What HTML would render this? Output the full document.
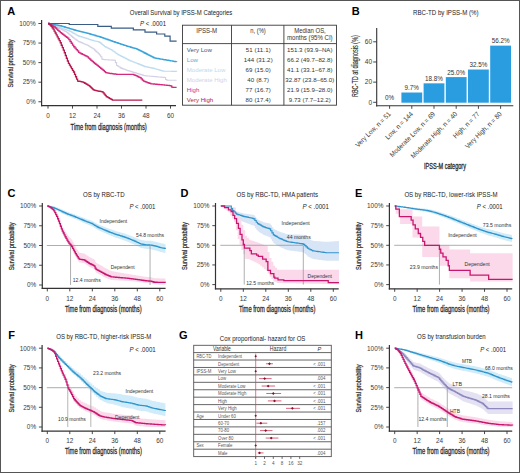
<!DOCTYPE html><html><head><meta charset="utf-8"><style>html,body{margin:0;padding:0;background:#fff;overflow:hidden;width:520px;height:473px;}svg{display:block;}text{font-family:"Liberation Sans", sans-serif;}</style></head><body>
<svg width="520" height="473" viewBox="0 0 520 473">
<rect x="0.00" y="0.00" width="520.00" height="473.00" fill="#ffffff" stroke="none" stroke-width="1.0" />
<text x="7.20" y="14.70" font-size="11" fill="#000" font-weight="bold">A</text>
<text x="129.80" y="15.10" font-size="7.0" fill="#222" textLength="102.50" lengthAdjust="spacingAndGlyphs">Overall Survival by IPSS-M Categories</text>
<text x="140.00" y="26.00" font-size="6.6" fill="#222" textLength="26.00" lengthAdjust="spacingAndGlyphs"><tspan font-style="italic">P</tspan> &lt; .0001</text>
<line x1="41.60" y1="20.00" x2="41.60" y2="106.20" stroke="#333" stroke-width="1.2" />
<line x1="41.00" y1="105.60" x2="176.00" y2="105.60" stroke="#333" stroke-width="1.2" />
<line x1="38.40" y1="101.75" x2="41.60" y2="101.75" stroke="#333" stroke-width="0.9" />
<text x="35.60" y="104.05" font-size="6.4" fill="#3a3a3a" text-anchor="end">0%</text>
<line x1="38.40" y1="82.19" x2="41.60" y2="82.19" stroke="#333" stroke-width="0.9" />
<text x="35.60" y="84.49" font-size="6.4" fill="#3a3a3a" text-anchor="end">25%</text>
<line x1="38.40" y1="62.62" x2="41.60" y2="62.62" stroke="#333" stroke-width="0.9" />
<text x="35.60" y="64.92" font-size="6.4" fill="#3a3a3a" text-anchor="end">50%</text>
<line x1="38.40" y1="43.06" x2="41.60" y2="43.06" stroke="#333" stroke-width="0.9" />
<text x="35.60" y="45.36" font-size="6.4" fill="#3a3a3a" text-anchor="end">75%</text>
<line x1="38.40" y1="23.50" x2="41.60" y2="23.50" stroke="#333" stroke-width="0.9" />
<text x="35.60" y="25.80" font-size="6.4" fill="#3a3a3a" text-anchor="end">100%</text>
<line x1="48.00" y1="105.60" x2="48.00" y2="108.60" stroke="#333" stroke-width="0.9" />
<text x="48.00" y="117.60" font-size="6.4" fill="#3a3a3a" text-anchor="middle">0</text>
<line x1="72.50" y1="105.60" x2="72.50" y2="108.60" stroke="#333" stroke-width="0.9" />
<text x="72.50" y="117.60" font-size="6.4" fill="#3a3a3a" text-anchor="middle">12</text>
<line x1="97.00" y1="105.60" x2="97.00" y2="108.60" stroke="#333" stroke-width="0.9" />
<text x="97.00" y="117.60" font-size="6.4" fill="#3a3a3a" text-anchor="middle">24</text>
<line x1="121.50" y1="105.60" x2="121.50" y2="108.60" stroke="#333" stroke-width="0.9" />
<text x="121.50" y="117.60" font-size="6.4" fill="#3a3a3a" text-anchor="middle">36</text>
<line x1="146.00" y1="105.60" x2="146.00" y2="108.60" stroke="#333" stroke-width="0.9" />
<text x="146.00" y="117.60" font-size="6.4" fill="#3a3a3a" text-anchor="middle">48</text>
<line x1="170.50" y1="105.60" x2="170.50" y2="108.60" stroke="#333" stroke-width="0.9" />
<text x="170.50" y="117.60" font-size="6.4" fill="#3a3a3a" text-anchor="middle">60</text>
<text x="70.60" y="129.50" font-size="8.8" fill="#2a2a2a" textLength="76.20" lengthAdjust="spacingAndGlyphs" stroke="#2a2a2a" stroke-width="0.28">Time from diagnosis (months)</text>
<text x="13.30" y="63.42" font-size="8.0" fill="#2a2a2a" text-anchor="middle" textLength="48.00" lengthAdjust="spacingAndGlyphs" transform="rotate(-90 13.30 63.42)" stroke="#2a2a2a" stroke-width="0.22">Survival probability</text>
<path d="M48.00,23.50H49.23V23.97H50.45V24.44H51.67V24.91H52.90V25.38H54.12V25.85H55.35V26.47H56.58V27.10H57.80V27.73H59.02V28.35H60.25V28.98H61.47V29.62H62.70V30.27H63.92V30.91H65.15V31.56H66.38V32.21H67.60V33.14H68.82V34.23H70.05V35.31H71.27V36.39H72.50V37.42H73.72V38.32H74.95V39.23H76.17V40.13H77.40V41.03H78.62V41.62H79.85V42.14H81.07V42.66H82.30V43.18H83.52V43.70H84.75V44.22H85.97V44.74H87.20V45.30H88.43V46.05H89.65V46.80H90.88V47.54H92.10V48.29H93.33V49.04H94.55V50.17H95.78V51.37H97.00V52.57H98.23V53.78H99.45V54.98H100.68V56.76H101.90V59.10H103.13V59.56H104.35V59.63H105.58V59.71H106.80V59.78H108.03V59.86H109.25V59.93H110.48V60.00H111.70V60.08H112.93V60.15H114.15V60.23H115.38V62.63H116.60V65.49H117.83V66.28H119.05V67.06H120.28V67.84H121.50V68.41H122.73V68.86H123.95V69.31H125.18V69.77H126.40V70.22H127.63V70.64H128.85V71.01H130.08V71.39H131.30V71.76H132.53V72.14H133.75V72.51H134.98V72.88H136.20V73.26H137.43V73.63H138.65V74.01H139.88V74.38H141.10V74.76H142.33V75.13H143.55V75.51H144.78V75.75H146.00V75.85H147.23V75.96H148.45V76.07H149.68V76.18H150.90V76.29H152.13V76.39H153.35V76.50H154.58V76.61H155.80V76.72H157.03V76.83H158.25V76.93H159.48V77.04H160.70V77.15H161.93V77.26H163.15V77.37H164.38V77.47H165.60V79.45H166.83V80.23H168.05V80.23H169.28V80.23H170.50V80.23H171.73V80.23H172.95V80.23H174.18V80.23H175.40V80.23H176.62V80.23" fill="none" stroke="#d4d0e6" stroke-width="1.1" stroke-linejoin="miter"/>
<path d="M48.00,23.50H49.23V23.89H50.45V24.28H51.67V24.67H52.90V25.06H54.12V25.46H55.35V25.93H56.58V26.40H57.80V26.86H59.02V27.33H60.25V27.80H61.47V28.24H62.70V28.68H63.92V29.12H65.15V29.55H66.38V29.99H67.60V30.43H68.82V30.87H70.05V31.44H71.27V32.15H72.50V32.85H73.72V33.56H74.95V34.26H76.17V34.96H77.40V35.67H78.62V36.10H79.85V36.48H81.07V36.87H82.30V37.25H83.52V37.63H84.75V38.02H85.97V38.42H87.20V38.82H88.43V39.22H89.65V39.62H90.88V40.01H92.10V40.41H93.33V40.72H94.55V41.00H95.78V41.29H97.00V41.57H98.23V41.86H99.45V42.39H100.68V43.42H101.90V44.45H103.13V45.48H104.35V46.51H105.58V47.12H106.80V47.73H108.03V48.34H109.25V48.95H110.48V49.56H111.70V50.31H112.93V51.19H114.15V52.07H115.38V52.94H116.60V53.82H117.83V54.62H119.05V55.24H120.28V55.87H121.50V56.50H122.73V57.12H123.95V57.75H125.18V58.37H126.40V59.00H127.63V59.63H128.85V60.25H130.08V60.83H131.30V61.29H132.53V61.76H133.75V62.23H134.98V62.70H136.20V63.18H137.43V63.67H138.65V64.16H139.88V64.65H141.10V65.14H142.33V65.63H143.55V66.12H144.78V66.61H146.00V66.90H147.23V67.14H148.45V67.39H149.68V67.63H150.90V67.88H152.13V68.13H153.35V68.37H154.58V68.68H155.80V69.05H157.03V69.43H158.25V69.80H159.48V70.17H160.70V70.55H161.93V70.92H163.15V71.23H164.38V71.25H165.60V71.26H166.83V71.28H168.05V71.29H169.28V71.30H170.50V71.32H171.73V71.33H172.95V71.35H174.18V71.36H175.40V71.37H176.62V71.39" fill="none" stroke="#bcdcf0" stroke-width="1.1" stroke-linejoin="miter"/>
<path d="M48.00,23.50H49.02V23.69H50.04V23.87H51.06V24.06H52.08V24.24H53.10V24.43H54.12V24.61H55.15V24.80H56.17V24.99H57.19V25.17H58.21V25.36H59.23V25.54H60.25V25.75H61.27V26.06H62.29V26.37H63.31V26.68H64.33V26.99H65.35V27.29H66.38V27.60H67.40V27.91H68.42V28.22H69.44V28.53H70.46V28.84H71.48V29.14H72.50V29.45H73.52V29.76H74.54V30.02H75.56V30.28H76.58V30.54H77.60V30.80H78.62V31.05H79.65V31.31H80.67V31.57H81.69V31.83H82.71V32.09H83.73V32.35H84.75V32.61H85.77V32.87H86.79V33.12H87.81V33.42H88.83V33.72H89.85V34.02H90.88V34.32H91.90V34.61H92.92V34.91H93.94V35.21H94.96V35.51H95.98V35.81H97.00V36.10H98.02V36.40H99.04V36.70H100.06V37.00H101.08V37.33H102.10V37.69H103.12V38.05H104.15V38.42H105.17V38.78H106.19V39.14H107.21V39.50H108.23V39.86H109.25V40.22H110.27V40.58H111.29V40.94H112.31V41.30H113.33V41.67H114.35V42.01H115.38V42.35H116.40V42.69H117.42V43.02H118.44V43.36H119.46V43.70H120.48V44.04H121.50V44.37H122.52V44.71H123.54V45.05H124.56V45.38H125.58V45.72H126.60V46.06H127.62V46.37H128.65V46.66H129.67V46.96H130.69V47.25H131.71V47.54H132.73V47.84H133.75V48.13H134.77V48.42H135.79V48.72H136.81V49.18H137.83V49.69H138.85V50.19H139.88V50.70H140.90V51.21H141.92V51.71H142.94V52.22H143.96V52.73H144.98V53.23H146.00V53.77H147.02V54.30H148.04V54.84H149.06V55.37H150.08V55.90H151.10V56.44H152.12V56.97H153.15V57.50H154.17V57.97H155.19V58.14H156.21V58.32H157.23V58.50H158.25V58.68H159.27V58.85H160.29V59.03H161.31V59.21H162.33V59.39H163.35V59.57H164.38V59.74H165.40V59.92H166.42V60.09H167.44V60.27H168.46V60.44H169.48V60.62H170.50V60.79H171.52V60.97H172.54V61.14H173.56V61.32H174.58V61.49H175.60V61.67H176.62V61.84" fill="none" stroke="#3aa3d9" stroke-width="1.3" stroke-linejoin="miter"/>
<path d="M48.00,23.50H69.23V24.52H97.82V26.32H111.29V28.19H133.34V29.92H144.98V32.19H156.62V33.99H164.78V36.18H170.09V41.18H176.62V41.18" fill="none" stroke="#3a5d85" stroke-width="1.2" stroke-linejoin="miter"/>
<path d="M48.00,23.50H49.23V24.13H50.45V24.75H51.67V25.46H52.90V26.24H54.12V27.02H55.35V27.99H56.58V29.15H57.80V30.30H59.02V31.46H60.25V32.58H61.47V33.52H62.70V34.45H63.92V35.39H65.15V36.33H66.38V37.27H67.60V38.21H68.82V39.71H70.05V41.48H71.27V43.25H72.50V45.03H73.72V46.74H74.95V48.15H76.17V49.56H77.40V50.97H78.62V52.37H79.85V53.12H81.07V53.73H82.30V54.35H83.52V54.96H84.75V55.58H85.97V56.19H87.20V56.97H88.43V58.08H89.65V59.19H90.88V60.30H92.10V61.41H93.33V62.52H94.55V63.50H95.78V64.45H97.00V65.40H98.23V66.36H99.45V67.31H100.68V68.28H101.90V69.37H103.13V70.45H104.35V71.53H105.58V72.62H106.80V72.95H108.03V73.12H109.25V73.30H110.48V73.48H111.70V73.65H112.93V73.83H114.15V74.01H115.38V74.19H116.60V74.36H117.83V74.36H119.05V74.36H120.28V74.36H121.50V74.36H122.73V74.36H123.95V74.36H125.18V74.36H126.40V74.36H127.63V74.36H128.85V74.36H130.08V74.36H131.30V74.36H132.53V74.36H133.75V74.90H134.98V75.44H136.20V75.97H137.43V76.51H138.65V77.05H139.88V77.69H141.10V78.89H142.33V80.09H143.55V81.17H144.78V81.62H146.00V82.08H147.23V82.54H148.45V82.99H149.68V83.45H150.90V83.79H152.13V83.91H153.35V84.02H154.58V84.14H155.80V84.26H157.03V84.37H158.25V84.49H159.48V84.60H160.70V84.72H161.93V84.84H163.15V84.95H164.38V85.07H165.60V85.19H166.83V85.30H168.05V85.42H169.28V85.53H170.50V85.83H171.73V87.03H172.95V87.43H174.18V87.43H175.40V87.43H176.62V87.43" fill="none" stroke="#d4287f" stroke-width="1.3" stroke-linejoin="miter"/>
<path d="M48.00,23.50H49.02V24.28H50.04V25.06H51.06V26.41H52.08V27.76H53.10V29.17H54.12V31.08H55.15V32.99H56.17V34.89H57.19V36.80H58.21V38.76H59.23V40.72H60.25V42.77H61.27V45.25H62.29V47.72H63.31V50.19H64.33V52.77H65.35V55.50H66.38V58.24H67.40V60.98H68.42V63.32H69.44V65.06H70.46V66.80H71.48V68.54H72.50V70.28H73.52V72.02H74.54V74.38H75.56V76.75H76.58V79.12H77.60V81.05H78.62V81.25H79.65V81.44H80.67V81.64H81.69V81.84H82.71V82.03H83.73V82.63H84.75V83.23H85.77V83.83H86.79V84.43H87.81V85.03H88.83V85.63H89.85V86.64H90.88V87.66H91.90V88.67H92.92V89.69H93.94V90.21H94.96V90.42H95.98V90.62H97.00V90.83H98.02V91.03H99.04V91.24H100.06V91.44H101.08V91.65H102.10V91.85H103.12V92.90H104.15V94.16H105.17V95.42H106.19V96.55H107.21V97.13H108.23V97.71H109.25V98.29H110.27V98.87H111.29V99.45H112.31V100.03H113.33V100.03H114.35V100.03H115.38V100.03H116.40V100.03H117.42V100.03H118.44V100.03H119.46V100.03H120.48V100.03H121.50V100.03H122.52V100.03H123.54V100.03H124.56V100.03H125.58V100.03H126.60V100.03H127.62V100.03H128.65V100.03H129.67V100.03H130.69V100.03H131.71V100.03H132.73V100.03H133.75V100.03H134.77V100.03H135.79V100.03H136.81V100.03H137.83V100.03H138.85V100.03H139.88V100.03H140.90V100.03H141.92V100.03H142.32V100.03" fill="none" stroke="#b7174f" stroke-width="1.3" stroke-linejoin="miter"/>
<rect x="182.50" y="25.20" width="154.00" height="80.00" fill="none" stroke="#3a3a3a" stroke-width="0.9" />
<line x1="182.50" y1="43.60" x2="336.50" y2="43.60" stroke="#3a3a3a" stroke-width="0.9" />
<line x1="231.50" y1="25.20" x2="231.50" y2="105.20" stroke="#3a3a3a" stroke-width="0.9" />
<line x1="283.90" y1="25.20" x2="283.90" y2="105.20" stroke="#3a3a3a" stroke-width="0.9" />
<text x="206.70" y="32.60" font-size="6.3" fill="#333" text-anchor="middle" textLength="21.00" lengthAdjust="spacingAndGlyphs">IPSS-M</text>
<text x="258.00" y="32.60" font-size="6.3" fill="#333" text-anchor="middle" textLength="15.50" lengthAdjust="spacingAndGlyphs">n, (%)</text>
<text x="310.00" y="32.80" font-size="6.3" fill="#333" text-anchor="middle" textLength="31.60" lengthAdjust="spacingAndGlyphs">Median OS,</text>
<text x="309.80" y="39.70" font-size="6.3" fill="#333" text-anchor="middle" textLength="45.70" lengthAdjust="spacingAndGlyphs">months (95% CI)</text>
<text x="186.80" y="52.00" font-size="6.1" fill="#34598a">Very Low</text>
<text x="258.30" y="52.00" font-size="6.1" fill="#333" text-anchor="middle" letter-spacing="0.12">51 (11.1)</text>
<text x="309.80" y="52.00" font-size="6.1" fill="#333" text-anchor="middle" letter-spacing="0.05">151.3 (93.9–NA)</text>
<text x="186.80" y="62.00" font-size="6.1" fill="#5aaad6">Low</text>
<text x="258.30" y="62.00" font-size="6.1" fill="#333" text-anchor="middle" letter-spacing="0.12">144 (31.2)</text>
<text x="309.80" y="62.00" font-size="6.1" fill="#333" text-anchor="middle" letter-spacing="0.05">66.2 (49.7–82.8)</text>
<text x="186.80" y="72.00" font-size="6.1" fill="#c2d9ec">Moderate Low</text>
<text x="258.30" y="72.00" font-size="6.1" fill="#333" text-anchor="middle" letter-spacing="0.12">69 (15.0)</text>
<text x="309.80" y="72.00" font-size="6.1" fill="#333" text-anchor="middle" letter-spacing="0.05">41.1 (33.1–67.8)</text>
<text x="186.80" y="82.00" font-size="6.1" fill="#d6d1e6">Moderate High</text>
<text x="258.30" y="82.00" font-size="6.1" fill="#333" text-anchor="middle" letter-spacing="0.12">40 (8.7)</text>
<text x="309.80" y="82.00" font-size="6.1" fill="#333" text-anchor="middle" letter-spacing="0.05">32.87 (23.8–65.0)</text>
<text x="186.80" y="92.00" font-size="6.1" fill="#d2307f">High</text>
<text x="258.30" y="92.00" font-size="6.1" fill="#333" text-anchor="middle" letter-spacing="0.12">77 (16.7)</text>
<text x="309.80" y="92.00" font-size="6.1" fill="#333" text-anchor="middle" letter-spacing="0.05">21.9 (15.9–28.0)</text>
<text x="186.80" y="102.00" font-size="6.1" fill="#b1214f">Very High</text>
<text x="258.30" y="102.00" font-size="6.1" fill="#333" text-anchor="middle" letter-spacing="0.12">80 (17.4)</text>
<text x="309.80" y="102.00" font-size="6.1" fill="#333" text-anchor="middle" letter-spacing="0.05">9.73 (7.7–12.2)</text>
<text x="351.80" y="15.20" font-size="11" fill="#000" font-weight="bold">B</text>
<text x="413.10" y="15.00" font-size="7.0" fill="#222" textLength="65.40" lengthAdjust="spacingAndGlyphs">RBC-TD by IPSS-M (%)</text>
<line x1="376.70" y1="28.00" x2="376.70" y2="106.40" stroke="#333" stroke-width="1.1" />
<line x1="376.10" y1="105.80" x2="513.30" y2="105.80" stroke="#333" stroke-width="1.1" />
<line x1="373.20" y1="102.30" x2="376.70" y2="102.30" stroke="#333" stroke-width="0.9" />
<text x="372.10" y="104.60" font-size="6.6" fill="#3a3a3a" text-anchor="end">0</text>
<line x1="373.20" y1="82.13" x2="376.70" y2="82.13" stroke="#333" stroke-width="0.9" />
<text x="372.10" y="84.43" font-size="6.6" fill="#3a3a3a" text-anchor="end">20</text>
<line x1="373.20" y1="61.97" x2="376.70" y2="61.97" stroke="#333" stroke-width="0.9" />
<text x="372.10" y="64.27" font-size="6.6" fill="#3a3a3a" text-anchor="end">40</text>
<line x1="373.20" y1="41.80" x2="376.70" y2="41.80" stroke="#333" stroke-width="0.9" />
<text x="372.10" y="44.10" font-size="6.6" fill="#3a3a3a" text-anchor="end">60</text>
<text x="389.60" y="99.80" font-size="6.3" fill="#333" text-anchor="middle">0%</text>
<line x1="389.60" y1="105.80" x2="389.60" y2="108.80" stroke="#333" stroke-width="0.9" />
<text x="391.20" y="114.60" font-size="6.9" fill="#3a3a3a" text-anchor="end" textLength="46.76" lengthAdjust="spacingAndGlyphs" transform="rotate(-45 391.20 114.60)">Very Low, n = 51</text>
<rect x="401.40" y="92.52" width="20.80" height="10.18" fill="#2a9de0" stroke="none" stroke-width="1.0" />
<text x="411.80" y="90.02" font-size="6.3" fill="#333" text-anchor="middle">9.7%</text>
<line x1="411.80" y1="105.80" x2="411.80" y2="108.80" stroke="#333" stroke-width="0.9" />
<text x="413.40" y="114.60" font-size="6.9" fill="#3a3a3a" text-anchor="end" textLength="35.90" lengthAdjust="spacingAndGlyphs" transform="rotate(-45 413.40 114.60)">Low, n = 144</text>
<rect x="423.60" y="83.34" width="20.80" height="19.36" fill="#2a9de0" stroke="none" stroke-width="1.0" />
<text x="434.00" y="80.84" font-size="6.3" fill="#333" text-anchor="middle">18.8%</text>
<line x1="434.00" y1="105.80" x2="434.00" y2="108.80" stroke="#333" stroke-width="0.9" />
<text x="435.60" y="114.60" font-size="6.9" fill="#3a3a3a" text-anchor="end" textLength="60.76" lengthAdjust="spacingAndGlyphs" transform="rotate(-45 435.60 114.60)">Moderate Low, n = 69</text>
<rect x="445.80" y="77.09" width="20.80" height="25.61" fill="#2a9de0" stroke="none" stroke-width="1.0" />
<text x="456.20" y="74.59" font-size="6.3" fill="#333" text-anchor="middle">25.0%</text>
<line x1="456.20" y1="105.80" x2="456.20" y2="108.80" stroke="#333" stroke-width="0.9" />
<text x="457.80" y="114.60" font-size="6.9" fill="#3a3a3a" text-anchor="end" textLength="62.51" lengthAdjust="spacingAndGlyphs" transform="rotate(-45 457.80 114.60)">Moderate High, n = 40</text>
<rect x="468.00" y="69.53" width="20.80" height="33.17" fill="#2a9de0" stroke="none" stroke-width="1.0" />
<text x="478.40" y="67.03" font-size="6.3" fill="#333" text-anchor="middle">32.5%</text>
<line x1="478.40" y1="105.80" x2="478.40" y2="108.80" stroke="#333" stroke-width="0.9" />
<text x="480.00" y="114.60" font-size="6.9" fill="#3a3a3a" text-anchor="end" textLength="34.15" lengthAdjust="spacingAndGlyphs" transform="rotate(-45 480.00 114.60)">High, n = 77</text>
<rect x="490.20" y="45.63" width="20.80" height="57.07" fill="#2a9de0" stroke="none" stroke-width="1.0" />
<text x="500.60" y="43.13" font-size="6.3" fill="#333" text-anchor="middle">56.2%</text>
<line x1="500.60" y1="105.80" x2="500.60" y2="108.80" stroke="#333" stroke-width="0.9" />
<text x="502.20" y="114.60" font-size="6.9" fill="#3a3a3a" text-anchor="end" textLength="48.50" lengthAdjust="spacingAndGlyphs" transform="rotate(-45 502.20 114.60)">Very High, n = 80</text>
<text x="424.00" y="169.20" font-size="8.8" fill="#2a2a2a" textLength="42.00" lengthAdjust="spacingAndGlyphs" stroke="#2a2a2a" stroke-width="0.32">IPSS-M category</text>
<text x="358.00" y="66.10" font-size="8.8" fill="#2a2a2a" text-anchor="middle" textLength="62.00" lengthAdjust="spacingAndGlyphs" transform="rotate(-90 358.00 66.10)" stroke="#2a2a2a" stroke-width="0.12">RBC-TD at diagnosis (%)</text>
<text x="7.60" y="197.00" font-size="11" fill="#000" font-weight="bold">C</text>
<text x="83.00" y="197.40" font-size="7.0" fill="#222" textLength="41.60" lengthAdjust="spacingAndGlyphs">OS by RBC-TD</text>
<text x="129.40" y="209.20" font-size="7.0" fill="#222" textLength="26.00" lengthAdjust="spacingAndGlyphs"><tspan font-style="italic">P</tspan> &lt; .0001</text>
<line x1="42.30" y1="203.00" x2="42.30" y2="289.00" stroke="#333" stroke-width="1.2" />
<line x1="41.70" y1="288.40" x2="165.60" y2="288.40" stroke="#333" stroke-width="1.2" />
<line x1="39.10" y1="285.00" x2="42.30" y2="285.00" stroke="#333" stroke-width="0.9" />
<text x="36.30" y="287.30" font-size="6.4" fill="#3a3a3a" text-anchor="end">0%</text>
<line x1="39.10" y1="265.25" x2="42.30" y2="265.25" stroke="#333" stroke-width="0.9" />
<text x="36.30" y="267.55" font-size="6.4" fill="#3a3a3a" text-anchor="end">25%</text>
<line x1="39.10" y1="245.50" x2="42.30" y2="245.50" stroke="#333" stroke-width="0.9" />
<text x="36.30" y="247.80" font-size="6.4" fill="#3a3a3a" text-anchor="end">50%</text>
<line x1="39.10" y1="225.75" x2="42.30" y2="225.75" stroke="#333" stroke-width="0.9" />
<text x="36.30" y="228.05" font-size="6.4" fill="#3a3a3a" text-anchor="end">75%</text>
<line x1="39.10" y1="206.00" x2="42.30" y2="206.00" stroke="#333" stroke-width="0.9" />
<text x="36.30" y="208.30" font-size="6.4" fill="#3a3a3a" text-anchor="end">100%</text>
<line x1="47.30" y1="288.40" x2="47.30" y2="291.40" stroke="#333" stroke-width="0.9" />
<text x="47.30" y="301.00" font-size="6.4" fill="#3a3a3a" text-anchor="middle">0</text>
<line x1="69.80" y1="288.40" x2="69.80" y2="291.40" stroke="#333" stroke-width="0.9" />
<text x="69.80" y="301.00" font-size="6.4" fill="#3a3a3a" text-anchor="middle">12</text>
<line x1="92.30" y1="288.40" x2="92.30" y2="291.40" stroke="#333" stroke-width="0.9" />
<text x="92.30" y="301.00" font-size="6.4" fill="#3a3a3a" text-anchor="middle">24</text>
<line x1="114.80" y1="288.40" x2="114.80" y2="291.40" stroke="#333" stroke-width="0.9" />
<text x="114.80" y="301.00" font-size="6.4" fill="#3a3a3a" text-anchor="middle">36</text>
<line x1="137.30" y1="288.40" x2="137.30" y2="291.40" stroke="#333" stroke-width="0.9" />
<text x="137.30" y="301.00" font-size="6.4" fill="#3a3a3a" text-anchor="middle">48</text>
<line x1="159.80" y1="288.40" x2="159.80" y2="291.40" stroke="#333" stroke-width="0.9" />
<text x="159.80" y="301.00" font-size="6.4" fill="#3a3a3a" text-anchor="middle">60</text>
<text x="64.90" y="312.00" font-size="8.8" fill="#2a2a2a" textLength="76.80" lengthAdjust="spacingAndGlyphs" stroke="#2a2a2a" stroke-width="0.28">Time from diagnosis (months)</text>
<text x="14.00" y="246.30" font-size="8.0" fill="#2a2a2a" text-anchor="middle" textLength="48.00" lengthAdjust="spacingAndGlyphs" transform="rotate(-90 14.00 246.30)" stroke="#2a2a2a" stroke-width="0.22">Survival probability</text>
<path d="M47.30,206.00H48.24V206.00H49.17V206.00H50.11V206.00H51.05V206.00H51.99V206.00H52.92V206.00H53.86V206.35H54.80V206.70H55.74V207.04H56.67V207.39H57.61V207.74H58.55V208.09H59.49V208.51H60.42V208.93H61.36V209.35H62.30V209.77H63.24V210.19H64.17V210.61H65.11V211.03H66.05V211.45H66.99V211.77H67.92V212.09H68.86V212.42H69.80V212.74H70.74V213.06H71.67V213.38H72.61V213.70H73.55V214.03H74.49V214.40H75.42V214.77H76.36V215.14H77.30V215.51H78.24V215.88H79.17V216.25H80.11V216.63H81.05V217.00H81.99V217.37H82.92V217.74H83.86V218.11H84.80V218.48H85.74V218.81H86.67V219.13H87.61V219.46H88.55V219.78H89.49V220.11H90.42V220.43H91.36V220.80H92.30V221.32H93.24V221.85H94.17V222.37H95.11V222.90H96.05V223.42H96.99V223.95H97.92V224.47H98.86V224.84H99.80V225.21H100.74V225.58H101.67V225.96H102.61V226.33H103.55V226.70H104.49V227.07H105.42V227.44H106.36V227.81H107.30V228.18H108.24V228.55H109.17V228.93H110.11V229.24H111.05V229.56H111.99V229.87H112.92V230.19H113.86V230.50H114.80V230.82H115.74V231.13H116.67V231.39H117.61V231.65H118.55V231.91H119.49V232.16H120.42V232.42H121.36V232.68H122.30V232.94H123.24V233.24H124.17V233.55H125.11V233.86H126.05V234.16H126.99V234.47H127.92V234.77H128.86V235.14H129.80V235.51H130.74V235.89H131.68V236.26H132.61V236.63H133.55V237.00H134.49V237.40H135.43V237.81H136.36V238.21H137.30V238.61H138.24V239.02H139.18V239.42H140.11V239.82H141.05V240.07H141.99V240.22H142.93V240.37H143.86V240.52H144.80V240.67H145.74V240.69H146.68V240.72H147.61V240.75H148.55V240.78H149.49V240.81H150.43V240.84H151.36V241.03H152.30V241.21H153.24V241.40H154.18V241.59H155.11V241.77H156.05V241.96H156.99V242.23H157.93V242.51H158.86V242.78H159.80V243.05H160.74V243.22H161.68V243.40H162.61V243.57H163.55V243.75H164.49V243.92H165.43V244.09V253.23H165.43V253.00H164.49V252.78H163.55V252.56H162.61V252.34H161.68V252.12H160.74V251.90H159.80V251.58H158.86V251.26H157.93V250.94H156.99V250.62H156.05V250.38H155.11V250.15H154.18V249.92H153.24V249.68H152.30V249.45H151.36V249.21H150.43V249.14H149.49V249.06H148.55V248.98H147.61V248.91H146.68V248.83H145.74V248.75H144.80V248.56H143.86V248.36H142.93V248.17H141.99V247.97H141.05V247.68H140.11V247.22H139.18V246.77H138.24V246.32H137.30V245.87H136.36V245.42H135.43V244.97H134.49V244.52H133.55V244.10H132.61V243.68H131.68V243.26H130.74V242.85H129.80V242.43H128.86V242.01H127.92V241.66H126.99V241.30H126.05V240.95H125.11V240.60H124.17V240.24H123.24V239.89H122.30V239.59H121.36V239.28H120.42V238.97H119.49V238.67H118.55V238.36H117.61V238.06H116.67V237.75H115.74V237.39H114.80V237.03H113.86V236.66H112.92V236.30H111.99V235.94H111.05V235.58H110.11V235.21H109.17V234.80H108.24V234.38H107.30V233.96H106.36V233.54H105.42V233.12H104.49V232.70H103.55V232.28H102.61V231.86H101.67V231.45H100.74V231.03H99.80V230.61H98.86V230.19H97.92V229.62H96.99V229.05H96.05V228.47H95.11V227.90H94.17V227.33H93.24V226.76H92.30V226.18H91.36V225.77H90.42V225.40H89.49V225.03H88.55V224.65H87.61V224.28H86.67V223.91H85.74V223.54H84.80V223.12H83.86V222.70H82.92V222.28H81.99V221.86H81.05V221.44H80.11V221.03H79.17V220.61H78.24V220.19H77.30V219.77H76.36V219.35H75.42V218.93H74.49V218.51H73.55V218.14H72.61V217.77H71.67V217.41H70.74V217.04H69.80V216.67H68.86V216.30H67.92V215.93H66.99V215.56H66.05V215.09H65.11V214.62H64.17V214.15H63.24V213.69H62.30V213.22H61.36V212.75H60.42V212.28H59.49V211.81H58.55V211.40H57.61V210.98H56.67V210.56H55.74V210.14H54.80V209.72H53.86V209.30H52.92V209.02H51.99V208.73H51.05V208.44H50.11V208.15H49.17V207.87H48.24V207.58H47.30Z" fill="#d0ecfa" fill-opacity="1.0" stroke="none"/>
<path d="M47.30,206.00H48.24V206.13H49.17V206.26H50.11V206.39H51.05V206.94H51.99V207.49H52.92V208.04H53.86V209.01H54.80V210.61H55.74V212.21H56.67V213.82H57.61V215.87H58.55V218.03H59.49V220.19H60.42V222.54H61.36V224.89H62.30V226.94H63.24V228.55H64.17V230.15H65.11V231.75H66.05V233.16H66.99V234.52H67.92V235.88H68.86V237.14H69.80V238.03H70.74V238.91H71.67V240.32H72.61V242.09H73.55V243.85H74.49V245.62H75.42V247.21H76.36V248.75H77.30V250.30H78.24V251.84H79.17V252.83H80.11V252.97H81.05V253.12H81.99V253.27H82.92V253.41H83.86V253.56H84.80V254.19H85.74V254.82H86.67V255.45H87.61V256.07H88.55V256.70H89.49V257.24H90.42V257.70H91.36V258.17H92.30V258.64H93.24V259.11H94.17V259.86H95.11V261.75H96.05V263.07H96.99V263.56H97.92V264.04H98.86V264.52H99.80V265.00H100.74V265.49H101.67V266.06H102.61V266.64H103.55V267.22H104.49V267.80H105.42V268.33H106.36V268.79H107.30V269.25H108.24V269.71H109.17V270.17H110.11V270.63H111.05V271.10H111.99V271.26H112.92V271.43H113.86V271.60H114.80V271.77H115.74V271.94H116.67V272.10H117.61V272.27H118.55V272.44H119.49V272.60H120.42V272.75H121.36V272.91H122.30V273.07H123.24V273.23H124.17V273.39H125.11V273.55H126.05V273.70H126.99V273.86H127.92V274.02H128.86V274.17H129.80V274.33H130.74V274.48H131.68V274.63H132.61V274.79H133.55V274.94H134.49V275.09H135.43V275.25H136.36V275.40H137.30V275.55H138.24V275.71H139.18V275.86H140.11V276.01H141.05V276.16H141.99V276.29H142.93V276.43H143.86V276.57H144.80V276.70H145.74V276.80H146.68V276.89H147.61V276.98H148.55V277.07H149.49V277.17H150.43V277.26H151.36V277.51H152.30V277.77H153.24V278.03H154.18V278.29H155.11V278.30H156.05V278.32H156.99V278.34H157.93V278.36H158.86V278.38H159.80V278.40H160.74V278.42H161.68V278.44H162.61V278.46H163.55V278.48H164.49V278.50H165.43V278.52V284.45H165.43V284.44H164.49V284.43H163.55V284.42H162.61V284.41H161.68V284.40H160.74V284.39H159.80V284.39H158.86V284.38H157.93V284.37H156.99V284.36H156.05V284.35H155.11V284.34H154.18V284.10H153.24V283.85H152.30V283.60H151.36V283.36H150.43V283.28H149.49V283.20H148.55V283.11H147.61V283.03H146.68V282.95H145.74V282.87H144.80V282.74H143.86V282.62H142.93V282.49H141.99V282.37H141.05V282.25H140.11V282.14H139.18V282.03H138.24V281.92H137.30V281.80H136.36V281.69H135.43V281.58H134.49V281.47H133.55V281.36H132.61V281.25H131.68V281.14H130.74V281.03H129.80V280.92H128.86V280.81H127.92V280.77H126.99V280.73H126.05V280.69H125.11V280.65H124.17V280.62H123.24V280.58H122.30V280.54H121.36V280.50H120.42V280.46H119.49V280.42H118.55V280.37H117.61V280.32H116.67V280.27H115.74V280.22H114.80V280.17H113.86V280.12H112.92V280.07H111.99V280.02H111.05V279.68H110.11V279.34H109.17V278.99H108.24V278.65H107.30V278.31H106.36V277.96H105.42V277.50H104.49V276.96H103.55V276.42H102.61V275.87H101.67V275.33H100.74V274.84H99.80V274.34H98.86V273.85H97.92V273.35H96.99V272.86H96.05V271.52H95.11V269.63H94.17V268.86H93.24V268.38H92.30V267.90H91.36V267.43H90.42V266.95H89.49V266.40H88.55V265.76H87.61V265.12H86.67V264.48H85.74V263.84H84.80V263.20H83.86V263.05H82.92V262.89H81.99V262.73H81.05V262.57H80.11V262.42H79.17V261.42H78.24V259.87H77.30V258.31H76.36V256.76H75.42V255.16H74.49V253.38H73.55V251.60H72.61V249.82H71.67V248.33H70.74V247.28H69.80V246.22H68.86V244.64H67.92V242.91H66.99V241.19H66.05V239.42H65.11V237.46H64.17V235.49H63.24V233.53H62.30V231.11H61.36V228.40H60.42V225.69H59.49V223.12H58.55V220.56H57.61V218.10H56.67V216.07H55.74V214.04H54.80V212.01H53.86V210.61H52.92V209.63H51.99V208.66H51.05V207.68H50.11V207.12H49.17V206.56H48.24V206.00H47.30Z" fill="#fbd8ea" fill-opacity="1.0" stroke="none"/>
<line x1="46.80" y1="245.50" x2="150.05" y2="245.50" stroke="#999999" stroke-width="0.8" />
<line x1="70.55" y1="245.50" x2="70.55" y2="285.00" stroke="#999999" stroke-width="0.8" />
<line x1="150.05" y1="245.50" x2="150.05" y2="285.00" stroke="#999999" stroke-width="0.8" />
<path d="M47.30,206.00H48.42V206.32H49.55V206.63H50.67V206.95H51.80V207.26H52.92V207.58H54.05V208.05H55.17V208.53H56.30V209.00H57.42V209.48H58.55V209.95H59.67V210.48H60.80V211.02H61.92V211.55H63.05V212.08H64.17V212.62H65.30V213.15H66.42V213.64H67.55V214.06H68.67V214.47H69.80V214.89H70.92V215.30H72.05V215.72H73.17V216.13H74.30V216.59H75.42V217.06H76.55V217.53H77.67V218.01H78.80V218.48H79.92V218.96H81.05V219.43H82.17V219.90H83.30V220.38H84.43V220.85H85.55V221.29H86.68V221.71H87.80V222.13H88.93V222.54H90.05V222.96H91.18V223.38H92.30V224.04H93.43V224.70H94.55V225.36H95.68V226.01H96.80V226.67H97.93V227.33H99.05V227.80H100.18V228.28H101.30V228.75H102.43V229.23H103.55V229.70H104.68V230.17H105.80V230.65H106.93V231.12H108.05V231.60H109.18V232.07H110.30V232.48H111.43V232.88H112.55V233.29H113.68V233.70H114.80V234.10H115.93V234.50H117.05V234.84H118.18V235.17H119.30V235.51H120.43V235.85H121.55V236.19H122.68V236.55H123.80V236.94H124.93V237.34H126.05V237.73H127.18V238.13H128.30V238.55H129.43V239.02H130.55V239.50H131.68V239.97H132.80V240.44H133.93V240.93H135.05V241.44H136.18V241.96H137.30V242.47H138.43V242.98H139.55V243.49H140.68V243.95H141.80V244.16H142.93V244.37H144.05V244.57H145.18V244.73H146.30V244.79H147.43V244.86H148.55V244.92H149.68V244.98H150.80V245.11H151.93V245.36H153.05V245.62H154.18V245.87H155.30V246.12H156.43V246.41H157.55V246.76H158.68V247.12H159.80V247.48H160.93V247.71H162.05V247.95H163.18V248.19H164.30V248.42H165.43V248.66" fill="none" stroke="#2f94ca" stroke-width="1.15" stroke-linejoin="miter"/>
<path d="M47.30,206.00H48.24V206.39H49.17V206.79H50.11V207.19H51.05V208.00H51.99V208.81H52.92V209.62H53.86V210.85H54.80V212.72H55.74V214.58H56.67V216.45H57.61V218.76H58.55V221.19H59.49V223.62H60.42V226.23H61.36V228.84H62.30V231.16H63.24V233.02H64.17V234.89H65.11V236.75H66.05V238.43H66.99V240.05H67.92V241.67H68.86V243.17H69.80V244.18H70.74V245.18H71.67V246.64H72.61V248.41H73.55V250.17H74.49V251.94H75.42V253.53H76.36V255.07H77.30V256.62H78.24V258.16H79.17V259.15H80.11V259.29H81.05V259.44H81.99V259.59H82.92V259.73H83.86V259.88H84.80V260.51H85.74V261.14H86.67V261.77H87.61V262.39H88.55V263.02H89.49V263.56H90.42V264.02H91.36V264.49H92.30V264.96H93.24V265.43H94.17V266.18H95.11V268.07H96.05V269.39H96.99V269.88H97.92V270.36H98.86V270.84H99.80V271.32H100.74V271.81H101.67V272.36H102.61V272.91H103.55V273.46H104.49V274.01H105.42V274.49H106.36V274.87H107.30V275.25H108.24V275.64H109.17V276.02H110.11V276.40H111.05V276.78H111.99V276.87H112.92V276.96H113.86V277.05H114.80V277.14H115.74V277.23H116.67V277.32H117.61V277.41H118.55V277.50H119.49V277.57H120.42V277.65H121.36V277.73H122.30V277.81H123.24V277.89H124.17V277.97H125.11V278.05H126.05V278.13H126.99V278.21H127.92V278.29H128.86V278.41H129.80V278.54H130.74V278.67H131.68V278.80H132.61V278.93H133.55V279.06H134.49V279.19H135.43V279.32H136.36V279.45H137.30V279.58H138.24V279.71H139.18V279.84H140.11V279.97H141.05V280.11H141.99V280.24H142.93V280.38H143.86V280.52H144.80V280.65H145.74V280.75H146.68V280.84H147.61V280.93H148.55V281.02H149.49V281.12H150.43V281.21H151.36V281.46H152.30V281.72H153.24V281.98H154.18V282.24H155.11V282.25H156.05V282.27H156.99V282.29H157.93V282.31H158.86V282.33H159.80V282.35H160.74V282.37H161.68V282.39H162.61V282.41H163.55V282.43H164.49V282.45H165.43V282.47" fill="none" stroke="#c8166f" stroke-width="1.3" stroke-linejoin="miter"/>
<text x="99.50" y="222.60" font-size="5.8" fill="#333" textLength="27.70" lengthAdjust="spacingAndGlyphs">Independent</text>
<text x="136.10" y="237.00" font-size="5.8" fill="#333" textLength="27.90" lengthAdjust="spacingAndGlyphs">54.8 months</text>
<text x="110.80" y="268.60" font-size="5.8" fill="#333" textLength="23.80" lengthAdjust="spacingAndGlyphs">Dependent</text>
<text x="72.80" y="282.20" font-size="5.8" fill="#333" textLength="27.90" lengthAdjust="spacingAndGlyphs">12.4 months</text>
<text x="180.50" y="197.00" font-size="11" fill="#000" font-weight="bold">D</text>
<text x="236.60" y="197.40" font-size="7.0" fill="#222" textLength="81.40" lengthAdjust="spacingAndGlyphs">OS by RBC-TD, HMA patients</text>
<text x="302.40" y="209.20" font-size="7.0" fill="#222" textLength="26.50" lengthAdjust="spacingAndGlyphs"><tspan font-style="italic">P</tspan> &lt; .0001</text>
<line x1="215.50" y1="203.00" x2="215.50" y2="289.40" stroke="#333" stroke-width="1.2" />
<line x1="214.90" y1="288.80" x2="338.70" y2="288.80" stroke="#333" stroke-width="1.2" />
<line x1="212.30" y1="284.60" x2="215.50" y2="284.60" stroke="#333" stroke-width="0.9" />
<text x="209.50" y="286.90" font-size="6.4" fill="#3a3a3a" text-anchor="end">0%</text>
<line x1="212.30" y1="264.95" x2="215.50" y2="264.95" stroke="#333" stroke-width="0.9" />
<text x="209.50" y="267.25" font-size="6.4" fill="#3a3a3a" text-anchor="end">25%</text>
<line x1="212.30" y1="245.30" x2="215.50" y2="245.30" stroke="#333" stroke-width="0.9" />
<text x="209.50" y="247.60" font-size="6.4" fill="#3a3a3a" text-anchor="end">50%</text>
<line x1="212.30" y1="225.65" x2="215.50" y2="225.65" stroke="#333" stroke-width="0.9" />
<text x="209.50" y="227.95" font-size="6.4" fill="#3a3a3a" text-anchor="end">75%</text>
<line x1="212.30" y1="206.00" x2="215.50" y2="206.00" stroke="#333" stroke-width="0.9" />
<text x="209.50" y="208.30" font-size="6.4" fill="#3a3a3a" text-anchor="end">100%</text>
<line x1="220.80" y1="288.80" x2="220.80" y2="291.80" stroke="#333" stroke-width="0.9" />
<text x="220.80" y="301.00" font-size="6.4" fill="#3a3a3a" text-anchor="middle">0</text>
<line x1="243.30" y1="288.80" x2="243.30" y2="291.80" stroke="#333" stroke-width="0.9" />
<text x="243.30" y="301.00" font-size="6.4" fill="#3a3a3a" text-anchor="middle">12</text>
<line x1="265.80" y1="288.80" x2="265.80" y2="291.80" stroke="#333" stroke-width="0.9" />
<text x="265.80" y="301.00" font-size="6.4" fill="#3a3a3a" text-anchor="middle">24</text>
<line x1="288.30" y1="288.80" x2="288.30" y2="291.80" stroke="#333" stroke-width="0.9" />
<text x="288.30" y="301.00" font-size="6.4" fill="#3a3a3a" text-anchor="middle">36</text>
<line x1="310.80" y1="288.80" x2="310.80" y2="291.80" stroke="#333" stroke-width="0.9" />
<text x="310.80" y="301.00" font-size="6.4" fill="#3a3a3a" text-anchor="middle">48</text>
<line x1="333.30" y1="288.80" x2="333.30" y2="291.80" stroke="#333" stroke-width="0.9" />
<text x="333.30" y="301.00" font-size="6.4" fill="#3a3a3a" text-anchor="middle">60</text>
<text x="239.00" y="312.00" font-size="8.8" fill="#2a2a2a" textLength="76.40" lengthAdjust="spacingAndGlyphs" stroke="#2a2a2a" stroke-width="0.28">Time from diagnosis (months)</text>
<text x="187.20" y="246.10" font-size="8.0" fill="#2a2a2a" text-anchor="middle" textLength="48.00" lengthAdjust="spacingAndGlyphs" transform="rotate(-90 187.20 246.10)" stroke="#2a2a2a" stroke-width="0.22">Survival probability</text>
<path d="M220.80,206.00H222.11V206.00H223.43V206.00H224.74V206.00H226.05V206.00H227.36V206.00H228.68V206.00H229.99V206.00H231.30V206.97H232.61V208.62H233.93V209.73H235.24V210.84H236.55V211.73H237.86V212.07H239.18V212.41H240.49V212.75H241.80V213.09H243.11V213.43H244.43V213.63H245.74V213.82H247.05V214.02H248.36V214.22H249.68V214.42H250.99V214.62H252.30V214.82H253.61V215.22H254.93V216.83H256.24V218.45H257.55V219.65H258.86V220.28H260.18V220.91H261.49V221.54H262.80V222.18H264.11V222.45H265.42V222.73H266.74V223.01H268.05V223.29H269.36V223.57H270.67V225.28H271.99V227.23H273.30V228.99H274.61V229.63H275.92V230.27H277.24V230.91H278.55V231.55H279.86V232.03H281.17V232.44H282.49V232.86H283.80V233.27H285.11V233.69H286.43V234.11H287.74V234.31H289.05V234.35H290.36V234.39H291.68V234.42H292.99V234.46H294.30V234.50H295.61V234.54H296.93V234.58H298.24V234.62H299.55V234.66H300.86V234.70H302.18V234.73H303.49V235.09H304.80V236.25H306.11V237.42H307.43V238.58H308.74V239.30H310.05V239.84H311.36V240.39H312.68V240.87H313.99V240.97H315.30V241.07H316.61V241.16H317.93V241.26H319.24V241.36H320.55V241.45H321.86V241.55H323.18V241.65H324.49V241.74H325.80V241.84H327.11V241.80H328.43V241.71H329.74V241.62H331.05V241.53H332.36V241.44H333.68V241.34H334.99V241.25H336.30V241.16H337.61V241.07H338.93V240.98V260.63H338.93V260.64H337.61V260.66H336.30V260.68H334.99V260.69H333.68V260.71H332.36V260.73H331.05V260.74H329.74V260.76H328.43V260.78H327.11V260.74H325.80V260.57H324.49V260.40H323.18V260.22H321.86V260.05H320.55V259.88H319.24V259.71H317.93V259.54H316.61V259.37H315.30V259.19H313.99V259.02H312.68V258.47H311.36V257.84H310.05V257.22H308.74V256.42H307.43V255.16H306.11V253.90H304.80V252.64H303.49V252.16H302.18V251.99H300.86V251.82H299.55V251.65H298.24V251.48H296.93V251.31H295.61V251.14H294.30V250.98H292.99V250.81H291.68V250.64H290.36V250.47H289.05V250.30H287.74V249.97H286.43V249.42H285.11V248.88H283.80V248.33H282.49V247.78H281.17V247.24H279.86V246.61H278.55V245.78H277.24V244.95H275.92V244.12H274.61V243.29H273.30V241.31H271.99V239.14H270.67V237.21H269.36V236.71H268.05V236.22H266.74V235.72H265.42V235.22H264.11V234.72H262.80V233.86H261.49V232.99H260.18V232.13H258.86V231.26H257.55V229.81H256.24V227.92H254.93V226.03H253.61V225.35H252.30V224.88H250.99V224.40H249.68V223.93H248.36V223.45H247.05V222.98H245.74V222.51H244.43V222.03H243.11V221.42H241.80V220.81H240.49V220.19H239.18V219.58H237.86V218.96H236.55V217.58H235.24V215.89H233.93V214.19H232.61V211.92H231.30V208.89H229.99V208.48H228.68V208.06H227.36V207.65H226.05V207.24H224.74V206.83H223.43V206.41H222.11V206.00H220.80Z" fill="#d8e5f6" fill-opacity="1.0" stroke="none"/>
<path d="M220.80,206.00H222.68V206.00H224.55V206.00H226.43V206.00H228.30V206.00H230.18V206.52H232.05V207.05H233.93V207.57H235.80V211.50H237.68V215.43H239.55V220.15H241.43V224.86H243.30V230.37H245.18V235.87H247.05V237.83H248.93V239.80H250.80V240.43H252.68V241.06H254.55V241.68H256.43V242.31H258.30V242.94H260.18V243.73H262.05V244.51H263.93V245.30H265.80V246.09H267.68V251.98H269.55V257.88H271.43V261.81H273.30V265.74H275.18V267.70H277.05V269.67H278.93V269.67H280.80V269.67H282.68V269.67H284.55V269.67H286.43V269.67H288.30V269.67H290.18V269.67H292.05V269.67H293.93V269.67H295.80V269.67H297.68V269.67H299.55V269.67H301.43V269.67H303.30V269.67H305.18V269.67H307.05V269.67H308.93V269.67H310.80V269.67H312.68V269.67H314.55V269.67H316.43V269.67H318.30V269.67H320.18V269.67H322.05V269.67H323.93V269.67H325.80V269.67H327.68V269.67H329.55V269.67H331.43V269.67H333.30V269.67H335.18V269.67H337.05V269.67H338.93V269.67V284.21H338.93V284.17H337.05V284.14H335.18V284.10H333.30V284.06H331.43V284.03H329.55V283.99H327.68V283.96H325.80V283.92H323.93V283.89H322.05V283.85H320.18V283.81H318.30V283.78H316.43V283.74H314.55V283.71H312.68V283.67H310.80V283.64H308.93V283.60H307.05V283.56H305.18V283.53H303.30V283.49H301.43V283.46H299.55V283.42H297.68V283.39H295.80V283.35H293.93V283.31H292.05V283.28H290.18V283.24H288.30V283.21H286.43V283.17H284.55V283.14H282.68V283.10H280.80V283.06H278.93V283.03H277.05V282.24H275.18V281.46H273.30V279.10H271.43V276.74H269.55V273.60H267.68V270.45H265.80V268.88H263.93V267.31H262.05V265.74H260.18V264.16H258.30V263.22H256.43V262.28H254.55V261.33H252.68V260.39H250.80V259.45H248.93V259.06H247.05V258.66H245.18V254.34H243.30V250.02H241.43V244.51H239.55V239.01H237.68V230.37H235.80V221.72H233.93V218.58H232.05V215.43H230.18V212.29H228.30V210.72H226.43V209.14H224.55V207.57H222.68V206.00H220.80Z" fill="#fbd8ea" fill-opacity="1.0" stroke="none"/>
<line x1="220.30" y1="245.30" x2="303.30" y2="245.30" stroke="#999999" stroke-width="0.8" />
<line x1="244.24" y1="245.30" x2="244.24" y2="284.60" stroke="#999999" stroke-width="0.8" />
<line x1="303.30" y1="245.30" x2="303.30" y2="284.60" stroke="#999999" stroke-width="0.8" />
<path d="M220.80,206.00H222.11V206.00H223.43V206.00H224.74V206.00H226.05V206.00H227.36V206.00H228.68V206.00H229.99V206.00H231.30V208.62H232.61V210.48H233.93V211.78H235.24V213.09H236.55V214.14H237.86V214.57H239.18V215.00H240.49V215.43H241.80V215.87H243.11V216.30H244.43V216.59H245.74V216.88H247.05V217.17H248.36V217.46H249.68V217.75H250.99V218.04H252.30V218.33H253.61V218.82H254.93V220.53H256.24V222.24H257.55V223.55H258.86V224.33H260.18V225.11H261.49V225.89H262.80V226.67H264.11V227.12H265.42V227.56H266.74V228.00H268.05V228.44H269.36V228.89H270.67V230.76H271.99V232.88H273.30V234.80H274.61V235.60H275.92V236.40H277.24V237.20H278.55V238.00H279.86V238.63H281.17V239.19H282.49V239.75H283.80V240.32H285.11V240.88H286.43V241.44H287.74V241.79H289.05V241.98H290.36V242.16H291.68V242.35H292.99V242.53H294.30V242.72H295.61V242.90H296.93V243.09H298.24V243.27H299.55V243.46H300.86V243.65H302.18V243.83H303.49V244.33H304.80V245.60H306.11V246.88H307.43V248.16H308.74V248.98H310.05V249.62H311.36V250.25H312.68V250.83H313.99V251.02H315.30V251.21H316.61V251.39H317.93V251.58H319.24V251.77H320.55V251.96H321.86V252.15H323.18V252.34H324.49V252.52H325.80V252.71H327.11V252.77H328.43V252.77H329.74V252.77H331.05V252.77H332.36V252.77H333.68V252.77H334.99V252.77H336.30V252.77H337.61V252.77H338.93V252.77" fill="none" stroke="#2f94ca" stroke-width="1.15" stroke-linejoin="miter"/>
<path d="M220.80,206.00H223.61V206.00H224.55V207.57H228.49V209.93H231.11V211.50H232.99V215.43H234.68V218.58H236.55V223.29H238.43V228.40H240.11V234.30H241.99V239.80H243.30V244.51H244.43V248.05H249.86V250.57H251.36V253.87H256.61V255.12H258.30V256.46H262.61V259.06H266.18V261.65H267.86V270.29H270.49V273.60H273.86V277.21H274.80V278.08H277.99V279.88H283.80V280.67H328.24V282.64H338.93V282.64" fill="none" stroke="#c8166f" stroke-width="1.3" stroke-linejoin="miter"/>
<text x="281.60" y="225.00" font-size="5.8" fill="#333" textLength="28.10" lengthAdjust="spacingAndGlyphs">Independent</text>
<text x="286.80" y="239.30" font-size="5.8" fill="#333" textLength="23.90" lengthAdjust="spacingAndGlyphs">44 months</text>
<text x="307.60" y="277.80" font-size="5.8" fill="#333" textLength="24.20" lengthAdjust="spacingAndGlyphs">Dependent</text>
<text x="246.20" y="284.60" font-size="5.8" fill="#333" textLength="27.90" lengthAdjust="spacingAndGlyphs">12.5 months</text>
<text x="355.00" y="197.00" font-size="11" fill="#000" font-weight="bold">E</text>
<text x="404.40" y="197.40" font-size="7.0" fill="#222" textLength="93.10" lengthAdjust="spacingAndGlyphs">OS by RBC-TD, lower-risk IPSS-M</text>
<text x="476.70" y="209.20" font-size="7.0" fill="#222" textLength="26.00" lengthAdjust="spacingAndGlyphs"><tspan font-style="italic">P</tspan> &lt; .0001</text>
<line x1="389.40" y1="203.00" x2="389.40" y2="289.40" stroke="#333" stroke-width="1.2" />
<line x1="388.80" y1="288.80" x2="512.20" y2="288.80" stroke="#333" stroke-width="1.2" />
<line x1="386.20" y1="284.60" x2="389.40" y2="284.60" stroke="#333" stroke-width="0.9" />
<text x="383.40" y="286.90" font-size="6.4" fill="#3a3a3a" text-anchor="end">0%</text>
<line x1="386.20" y1="264.95" x2="389.40" y2="264.95" stroke="#333" stroke-width="0.9" />
<text x="383.40" y="267.25" font-size="6.4" fill="#3a3a3a" text-anchor="end">25%</text>
<line x1="386.20" y1="245.30" x2="389.40" y2="245.30" stroke="#333" stroke-width="0.9" />
<text x="383.40" y="247.60" font-size="6.4" fill="#3a3a3a" text-anchor="end">50%</text>
<line x1="386.20" y1="225.65" x2="389.40" y2="225.65" stroke="#333" stroke-width="0.9" />
<text x="383.40" y="227.95" font-size="6.4" fill="#3a3a3a" text-anchor="end">75%</text>
<line x1="386.20" y1="206.00" x2="389.40" y2="206.00" stroke="#333" stroke-width="0.9" />
<text x="383.40" y="208.30" font-size="6.4" fill="#3a3a3a" text-anchor="end">100%</text>
<line x1="394.70" y1="288.80" x2="394.70" y2="291.80" stroke="#333" stroke-width="0.9" />
<text x="394.70" y="301.00" font-size="6.4" fill="#3a3a3a" text-anchor="middle">0</text>
<line x1="417.16" y1="288.80" x2="417.16" y2="291.80" stroke="#333" stroke-width="0.9" />
<text x="417.16" y="301.00" font-size="6.4" fill="#3a3a3a" text-anchor="middle">12</text>
<line x1="439.62" y1="288.80" x2="439.62" y2="291.80" stroke="#333" stroke-width="0.9" />
<text x="439.62" y="301.00" font-size="6.4" fill="#3a3a3a" text-anchor="middle">24</text>
<line x1="462.08" y1="288.80" x2="462.08" y2="291.80" stroke="#333" stroke-width="0.9" />
<text x="462.08" y="301.00" font-size="6.4" fill="#3a3a3a" text-anchor="middle">36</text>
<line x1="484.54" y1="288.80" x2="484.54" y2="291.80" stroke="#333" stroke-width="0.9" />
<text x="484.54" y="301.00" font-size="6.4" fill="#3a3a3a" text-anchor="middle">48</text>
<line x1="507.00" y1="288.80" x2="507.00" y2="291.80" stroke="#333" stroke-width="0.9" />
<text x="507.00" y="301.00" font-size="6.4" fill="#3a3a3a" text-anchor="middle">60</text>
<text x="412.50" y="312.00" font-size="8.8" fill="#2a2a2a" textLength="77.00" lengthAdjust="spacingAndGlyphs" stroke="#2a2a2a" stroke-width="0.28">Time from diagnosis (months)</text>
<text x="361.10" y="246.10" font-size="8.0" fill="#2a2a2a" text-anchor="middle" textLength="48.00" lengthAdjust="spacingAndGlyphs" transform="rotate(-90 361.10 246.10)" stroke="#2a2a2a" stroke-width="0.22">Survival probability</text>
<path d="M394.70,206.00H395.82V206.07H396.95V206.14H398.07V206.21H399.19V206.28H400.31V206.35H401.44V206.42H402.56V206.50H403.68V206.57H404.81V206.67H405.93V206.78H407.05V206.90H408.18V207.01H409.30V207.13H410.42V207.24H411.54V207.36H412.67V207.47H413.79V207.58H414.91V207.69H416.04V207.80H417.16V207.91H418.28V208.02H419.41V208.12H420.53V208.23H421.65V208.34H422.77V208.45H423.90V208.56H425.02V208.67H426.14V208.77H427.27V208.98H428.39V209.22H429.51V209.47H430.64V209.72H431.76V209.97H432.88V210.21H434.00V210.46H435.13V210.80H436.25V211.13H437.37V211.47H438.50V211.81H439.62V212.14H440.74V212.48H441.87V212.82H442.99V213.15H444.11V213.51H445.24V213.89H446.36V214.28H447.48V214.67H448.60V215.05H449.73V215.44H450.85V215.83H451.97V216.26H453.10V216.69H454.22V217.12H455.34V217.56H456.47V217.99H457.59V218.42H458.71V218.86H459.83V219.29H460.96V219.72H462.08V220.14H463.20V220.56H464.33V220.98H465.45V221.40H466.57V221.82H467.70V222.24H468.82V222.66H469.94V223.07H471.06V223.50H472.19V223.92H473.31V224.34H474.43V224.76H475.56V225.18H476.68V225.60H477.80V226.02H478.93V226.42H480.05V226.80H481.17V227.17H482.29V227.54H483.42V227.91H484.54V228.28H485.66V228.65H486.79V228.99H487.91V229.26H489.03V229.53H490.16V229.80H491.28V230.08H492.40V230.35H493.52V230.62H494.65V230.89H495.77V231.16H496.89V231.48H498.02V231.80H499.14V232.12H500.26V232.44H501.39V232.76H502.51V233.08H503.63V233.38H504.75V233.61H505.88V233.85H507.00V234.09H508.12V234.33H509.25V234.57H510.37V234.81H511.49V235.05H512.05V235.17V242.22H512.05V242.08H511.49V241.80H510.37V241.52H509.25V241.24H508.12V240.95H507.00V240.67H505.88V240.39H504.75V240.11H503.63V239.77H502.51V239.41H501.39V239.04H500.26V238.68H499.14V238.32H498.02V237.95H496.89V237.59H495.77V237.28H494.65V236.96H493.52V236.65H492.40V236.33H491.28V236.02H490.16V235.71H489.03V235.39H487.91V235.08H486.79V234.70H485.66V234.28H484.54V233.87H483.42V233.46H482.29V233.04H481.17V232.63H480.05V232.21H478.93V231.76H477.80V231.30H476.68V230.84H475.56V230.37H474.43V229.91H473.31V229.45H472.19V228.98H471.06V228.52H469.94V228.06H468.82V227.60H467.70V227.13H466.57V226.67H465.45V226.21H464.33V225.75H463.20V225.29H462.08V224.82H460.96V224.35H459.83V223.87H458.71V223.40H457.59V222.92H456.47V222.44H455.34V221.97H454.22V221.49H453.10V221.02H451.97V220.54H450.85V220.08H449.73V219.63H448.60V219.17H447.48V218.71H446.36V218.25H445.24V217.80H444.11V217.37H442.99V216.97H441.87V216.56H440.74V216.15H439.62V215.74H438.50V215.34H437.37V214.93H436.25V214.52H435.13V214.12H434.00V213.80H432.88V213.48H431.76V213.16H430.64V212.84H429.51V212.52H428.39V212.21H427.27V211.93H426.14V211.75H425.02V211.58H423.90V211.40H422.77V211.22H421.65V211.04H420.53V210.86H419.41V210.68H418.28V210.50H417.16V210.32H416.04V210.14H414.91V209.97H413.79V209.72H412.67V209.47H411.54V209.21H410.42V208.96H409.30V208.70H408.18V208.45H407.05V208.19H405.93V207.94H404.81V207.70H403.68V207.49H402.56V207.27H401.44V207.06H400.31V206.85H399.19V206.64H398.07V206.42H396.95V206.21H395.82V206.00H394.70Z" fill="#d0ecfa" fill-opacity="1.0" stroke="none"/>
<path d="M394.70,206.00H400.13V209.14H412.48V216.53H422.21V226.44H439.43V245.30H449.35V249.47H470.13V253.16H512.62V253.16V281.46H512.62V281.46H470.13V278.31H449.35V265.74H439.43V257.09H422.21V237.44H412.48V224.08H400.13V213.86H395.82V206.00H394.70Z" fill="#fbd8ea" fill-opacity="1.0" stroke="none"/>
<line x1="394.20" y1="245.30" x2="512.20" y2="245.30" stroke="#999999" stroke-width="0.8" />
<line x1="439.43" y1="245.30" x2="439.43" y2="284.60" stroke="#999999" stroke-width="0.8" />
<path d="M394.70,206.00H395.82V206.14H396.95V206.28H398.07V206.42H399.19V206.57H400.31V206.71H401.44V206.85H402.56V206.99H403.68V207.13H404.81V207.30H405.93V207.49H407.05V207.67H408.18V207.86H409.30V208.04H410.42V208.23H411.54V208.41H412.67V208.60H413.79V208.77H414.91V208.92H416.04V209.06H417.16V209.21H418.28V209.35H419.41V209.49H420.53V209.64H421.65V209.78H422.77V209.92H423.90V210.07H425.02V210.21H426.14V210.35H427.27V210.59H428.39V210.87H429.51V211.16H430.64V211.44H431.76V211.72H432.88V212.01H434.00V212.29H435.13V212.66H436.25V213.03H437.37V213.40H438.50V213.78H439.62V214.15H440.74V214.52H441.87V214.89H442.99V215.26H444.11V215.65H445.24V216.07H446.36V216.50H447.48V216.92H448.60V217.34H449.73V217.76H450.85V218.18H451.97V218.64H453.10V219.09H454.22V219.55H455.34V220.00H456.47V220.46H457.59V220.91H458.71V221.36H459.83V221.82H460.96V222.27H462.08V222.72H463.20V223.16H464.33V223.60H465.45V224.04H466.57V224.48H467.70V224.92H468.82V225.36H469.94V225.80H471.06V226.24H472.19V226.68H473.31V227.12H474.43V227.57H475.56V228.01H476.68V228.45H477.80V228.89H478.93V229.32H480.05V229.71H481.17V230.10H482.29V230.50H483.42V230.89H484.54V231.28H485.66V231.68H486.79V232.04H487.91V232.33H489.03V232.62H490.16V232.91H491.28V233.21H492.40V233.50H493.52V233.79H494.65V234.08H495.77V234.37H496.89V234.72H498.02V235.06H499.14V235.40H500.26V235.74H501.39V236.08H502.51V236.43H503.63V236.74H504.75V237.00H505.88V237.26H507.00V237.52H508.12V237.78H509.25V238.05H510.37V238.31H511.49V238.57H512.05V238.70" fill="none" stroke="#2f94ca" stroke-width="1.15" stroke-linejoin="miter"/>
<path d="M394.70,206.00H395.82V209.14H399.38V216.53H411.17V220.15H413.04V224.86H415.29V228.79H418.28V233.51H420.53V237.44H422.77V241.37H424.65V245.30H439.43V249.23H440.74V253.16H442.99V256.85H446.17V260.47H448.23V265.74H449.35V270.29H470.13V275.17H488.66V279.33H512.62V279.33" fill="none" stroke="#c8166f" stroke-width="1.3" stroke-linejoin="miter"/>
<text x="482.80" y="227.00" font-size="5.8" fill="#333" textLength="28.50" lengthAdjust="spacingAndGlyphs">73.5 months</text>
<text x="448.20" y="237.20" font-size="5.8" fill="#333" textLength="28.50" lengthAdjust="spacingAndGlyphs">Independent</text>
<text x="409.80" y="269.00" font-size="5.8" fill="#333" textLength="28.20" lengthAdjust="spacingAndGlyphs">23.9 months</text>
<text x="464.60" y="266.00" font-size="5.8" fill="#333" textLength="25.10" lengthAdjust="spacingAndGlyphs">Dependent</text>
<text x="8.30" y="338.80" font-size="11" fill="#000" font-weight="bold">F</text>
<text x="56.20" y="339.40" font-size="7.0" fill="#222" textLength="95.20" lengthAdjust="spacingAndGlyphs">OS by RBC-TD, higher-risk IPSS-M</text>
<text x="129.40" y="351.60" font-size="7.0" fill="#222" textLength="26.30" lengthAdjust="spacingAndGlyphs"><tspan font-style="italic">P</tspan> &lt; .0001</text>
<line x1="42.10" y1="345.00" x2="42.10" y2="431.70" stroke="#333" stroke-width="1.2" />
<line x1="41.50" y1="431.10" x2="165.60" y2="431.10" stroke="#333" stroke-width="1.2" />
<line x1="38.90" y1="427.00" x2="42.10" y2="427.00" stroke="#333" stroke-width="0.9" />
<text x="36.10" y="429.30" font-size="6.4" fill="#3a3a3a" text-anchor="end">0%</text>
<line x1="38.90" y1="407.30" x2="42.10" y2="407.30" stroke="#333" stroke-width="0.9" />
<text x="36.10" y="409.60" font-size="6.4" fill="#3a3a3a" text-anchor="end">25%</text>
<line x1="38.90" y1="387.60" x2="42.10" y2="387.60" stroke="#333" stroke-width="0.9" />
<text x="36.10" y="389.90" font-size="6.4" fill="#3a3a3a" text-anchor="end">50%</text>
<line x1="38.90" y1="367.90" x2="42.10" y2="367.90" stroke="#333" stroke-width="0.9" />
<text x="36.10" y="370.20" font-size="6.4" fill="#3a3a3a" text-anchor="end">75%</text>
<line x1="38.90" y1="348.20" x2="42.10" y2="348.20" stroke="#333" stroke-width="0.9" />
<text x="36.10" y="350.50" font-size="6.4" fill="#3a3a3a" text-anchor="end">100%</text>
<line x1="47.30" y1="431.10" x2="47.30" y2="434.10" stroke="#333" stroke-width="0.9" />
<text x="47.30" y="442.80" font-size="6.4" fill="#3a3a3a" text-anchor="middle">0</text>
<line x1="69.80" y1="431.10" x2="69.80" y2="434.10" stroke="#333" stroke-width="0.9" />
<text x="69.80" y="442.80" font-size="6.4" fill="#3a3a3a" text-anchor="middle">12</text>
<line x1="92.30" y1="431.10" x2="92.30" y2="434.10" stroke="#333" stroke-width="0.9" />
<text x="92.30" y="442.80" font-size="6.4" fill="#3a3a3a" text-anchor="middle">24</text>
<line x1="114.80" y1="431.10" x2="114.80" y2="434.10" stroke="#333" stroke-width="0.9" />
<text x="114.80" y="442.80" font-size="6.4" fill="#3a3a3a" text-anchor="middle">36</text>
<line x1="137.30" y1="431.10" x2="137.30" y2="434.10" stroke="#333" stroke-width="0.9" />
<text x="137.30" y="442.80" font-size="6.4" fill="#3a3a3a" text-anchor="middle">48</text>
<line x1="159.80" y1="431.10" x2="159.80" y2="434.10" stroke="#333" stroke-width="0.9" />
<text x="159.80" y="442.80" font-size="6.4" fill="#3a3a3a" text-anchor="middle">60</text>
<text x="64.90" y="454.40" font-size="8.8" fill="#2a2a2a" textLength="77.00" lengthAdjust="spacingAndGlyphs" stroke="#2a2a2a" stroke-width="0.28">Time from diagnosis (months)</text>
<text x="13.80" y="388.40" font-size="8.0" fill="#2a2a2a" text-anchor="middle" textLength="48.00" lengthAdjust="spacingAndGlyphs" transform="rotate(-90 13.80 388.40)" stroke="#2a2a2a" stroke-width="0.22">Survival probability</text>
<path d="M47.30,348.20H49.17V348.44H51.05V348.67H52.92V349.91H54.80V351.39H56.67V353.48H58.55V355.57H60.42V357.66H62.30V359.36H64.17V361.07H66.05V362.77H67.92V364.48H69.80V366.18H71.67V367.89H73.55V369.46H75.42V370.83H77.30V372.21H79.17V373.58H81.05V375.20H82.92V376.88H84.80V378.56H86.67V380.23H88.55V381.89H90.42V383.55H92.30V385.18H94.17V386.81H96.05V388.09H97.92V389.36H99.80V390.64H101.67V391.46H103.55V392.09H105.42V392.72H107.30V392.98H109.17V393.07H111.05V393.16H112.92V393.26H114.80V393.42H116.67V393.74H118.55V394.05H120.42V394.37H122.30V394.69H124.17V394.98H126.05V395.27H127.92V395.56H129.80V395.85H131.68V396.17H133.55V396.73H135.43V397.28H137.30V397.84H139.18V398.06H141.05V398.28H142.93V398.50H144.80V398.72H146.68V399.21H148.55V399.80H150.43V400.40H152.30V401.00H154.18V401.36H156.05V401.72H157.93V402.08H159.80V402.46H161.68V402.86H163.55V403.27H165.43V403.68V416.28H165.43V415.88H163.55V415.47H161.68V415.07H159.80V414.69H157.93V414.33H156.05V413.97H154.18V413.60H152.30V413.01H150.43V412.41H148.55V411.82H146.68V411.33H144.80V411.11H142.93V410.89H141.05V410.67H139.18V410.45H137.30V409.89H135.43V409.33H133.55V408.77H131.68V408.46H129.80V408.17H127.92V407.88H126.05V407.59H124.17V407.30H122.30V406.71H120.42V406.11H118.55V405.52H116.67V404.92H114.80V404.48H112.92V404.12H111.05V403.75H109.17V403.38H107.30V402.85H105.42V401.94H103.55V401.04H101.67V399.94H99.80V398.38H97.92V396.83H96.05V395.28H94.17V393.37H92.30V391.46H90.42V389.53H88.55V387.60H86.67V385.66H84.80V383.70H82.92V381.74H81.05V379.85H79.17V378.20H77.30V376.55H75.42V374.90H73.55V373.05H71.67V371.07H69.80V369.09H67.92V367.10H66.05V365.12H64.17V363.14H62.30V361.16H60.42V358.80H58.55V356.44H56.67V354.07H54.80V352.31H52.92V350.80H51.05V349.89H49.17V348.99H47.30Z" fill="#d0ecfa" fill-opacity="1.0" stroke="none"/>
<path d="M47.30,348.20H49.17V348.36H51.05V348.52H52.92V349.67H54.80V351.94H56.67V356.83H58.55V361.60H60.42V366.09H62.30V370.40H64.17V374.29H66.05V378.65H67.92V384.54H69.80V387.54H71.67V390.83H73.55V394.53H75.42V396.55H77.30V398.40H79.17V400.13H81.05V401.47H82.92V402.41H84.80V403.36H86.67V404.17H88.55V404.97H90.42V405.78H92.30V406.58H94.17V407.55H96.05V408.78H97.92V410.01H99.80V411.24H101.67V411.69H103.55V412.14H105.42V412.46H107.30V412.77H109.17V413.08H111.05V413.39H112.92V413.70H114.80V413.98H116.67V414.18H118.55V414.37H120.42V414.57H122.30V414.77H124.17V414.96H126.05V415.16H127.92V415.36H129.80V415.55H131.68V415.84H133.55V416.89H135.43V417.94H137.30V418.12H139.18V418.30H141.05V418.48H142.93V418.65H144.80V418.83H146.68V419.01H148.55V419.17H150.43V419.30H152.30V419.42H154.18V419.55H156.05V419.67H157.93V419.80H159.80V419.92H161.68V420.05H163.55V420.18H165.43V420.30V427.00H165.43V427.00H163.55V427.00H161.68V427.00H159.80V427.00H157.93V427.00H156.05V427.00H154.18V427.00H152.30V427.00H150.43V427.00H148.55V426.89H146.68V426.71H144.80V426.53H142.93V426.36H141.05V426.18H139.18V426.00H137.30V425.82H135.43V424.77H133.55V423.72H131.68V423.43H129.80V423.24H127.92V423.04H126.05V422.84H124.17V422.65H122.30V422.45H120.42V422.25H118.55V422.06H116.67V421.86H114.80V421.58H112.92V421.27H111.05V420.96H109.17V420.65H107.30V420.34H105.42V420.02H103.55V419.57H101.67V419.12H99.80V417.89H97.92V416.66H96.05V415.43H94.17V414.46H92.30V413.66H90.42V412.85H88.55V412.05H86.67V411.24H84.80V410.29H82.92V409.35H81.05V407.94H79.17V406.06H77.30V403.99H75.42V401.63H73.55V397.53H71.67V393.85H69.80V390.45H67.92V384.16H66.05V379.41H64.17V375.13H62.30V370.42H60.42V365.54H58.55V360.37H56.67V355.09H54.80V352.43H52.92V350.88H51.05V349.93H49.17V348.99H47.30Z" fill="#fbd8ea" fill-opacity="1.0" stroke="none"/>
<line x1="46.80" y1="387.60" x2="90.80" y2="387.60" stroke="#bdbdbd" stroke-width="1.1" />
<line x1="67.74" y1="387.60" x2="67.74" y2="427.00" stroke="#bdbdbd" stroke-width="1.1" />
<line x1="90.80" y1="387.60" x2="90.80" y2="427.00" stroke="#bdbdbd" stroke-width="1.1" />
<path d="M47.30,348.20H48.42V348.67H49.55V349.15H50.67V349.62H51.80V350.33H52.92V351.17H54.05V352.00H55.17V353.26H56.30V354.61H57.42V355.96H58.55V357.30H59.67V358.65H60.80V359.92H61.92V361.04H63.05V362.15H64.17V363.27H65.30V364.39H66.42V365.51H67.55V366.62H68.67V367.74H69.80V368.86H70.92V369.98H72.05V371.09H73.17V372.15H74.30V373.07H75.42V373.99H76.55V374.90H77.67V375.82H78.80V376.74H79.92V377.72H81.05V378.83H82.17V379.93H83.30V381.03H84.43V382.14H85.55V383.24H86.68V384.33H87.80V385.42H88.93V386.51H90.05V387.60H91.18V388.67H92.30V389.75H93.43V390.82H94.55V391.83H95.68V392.69H96.80V393.55H97.93V394.41H99.05V395.27H100.18V396.12H101.30V396.66H102.43V397.13H103.55V397.61H104.68V398.08H105.80V398.55H106.93V398.76H108.05V398.91H109.18V399.06H110.30V399.21H111.43V399.36H112.55V399.51H113.68V399.66H114.80V399.88H115.93V400.16H117.05V400.45H118.18V400.74H119.30V401.02H120.43V401.31H121.55V401.59H122.68V401.84H123.80V402.02H124.93V402.19H126.05V402.36H127.18V402.54H128.30V402.71H129.43V402.88H130.55V403.06H131.68V403.26H132.80V403.59H133.93V403.93H135.05V404.26H136.18V404.60H137.30V404.94H138.43V405.07H139.55V405.20H140.68V405.33H141.80V405.46H142.93V405.60H144.05V405.73H145.18V405.86H146.30V406.18H147.43V406.54H148.55V406.90H149.68V407.25H150.80V407.61H151.93V407.97H153.05V408.23H154.18V408.45H155.30V408.67H156.43V408.88H157.55V409.10H158.68V409.32H159.80V409.55H160.93V409.79H162.05V410.04H163.18V410.28H164.30V410.52H165.43V410.77" fill="none" stroke="#2f94ca" stroke-width="1.15" stroke-linejoin="miter"/>
<path d="M47.30,348.20H48.24V348.59H49.17V348.99H50.11V349.38H51.05V349.78H51.99V350.47H52.92V351.17H53.86V351.86H54.80V353.68H55.74V356.24H56.67V358.80H57.61V361.36H58.55V363.80H59.49V366.17H60.42V368.53H61.36V370.89H62.30V373.08H63.24V375.14H64.17V377.21H65.11V379.27H66.05V381.80H66.99V385.02H67.92V387.92H68.86V389.55H69.80V391.17H70.74V392.79H71.67V394.69H72.61V396.66H73.55V398.63H74.49V399.76H75.42V400.88H76.36V401.97H77.30V402.91H78.24V403.85H79.17V404.79H80.11V405.72H81.05V406.20H81.99V406.67H82.92V407.14H83.86V407.62H84.80V408.09H85.74V408.49H86.67V408.89H87.61V409.30H88.55V409.70H89.49V410.10H90.42V410.50H91.36V410.91H92.30V411.31H93.24V411.71H94.17V412.28H95.11V412.90H96.05V413.51H96.99V414.13H97.92V414.74H98.86V415.35H99.80V415.97H100.74V416.19H101.67V416.42H102.61V416.64H103.55V416.87H104.49V417.04H105.42V417.19H106.36V417.35H107.30V417.50H108.24V417.66H109.17V417.81H110.11V417.97H111.05V418.12H111.99V418.28H112.92V418.43H113.86V418.59H114.80V418.71H115.74V418.80H116.67V418.90H117.61V419.00H118.55V419.10H119.49V419.20H120.42V419.30H121.36V419.40H122.30V419.49H123.24V419.59H124.17V419.69H125.11V419.79H126.05V419.89H126.99V419.99H127.92V420.09H128.86V420.18H129.80V420.28H130.74V420.38H131.68V420.56H132.61V421.09H133.55V421.62H134.49V422.14H135.43V422.67H136.36V422.76H137.30V422.85H138.24V422.93H139.18V423.02H140.11V423.11H141.05V423.20H141.99V423.29H142.93V423.38H143.86V423.47H144.80V423.56H145.74V423.65H146.68V423.74H147.61V423.83H148.55V423.90H149.49V423.96H150.43V424.02H151.36V424.09H152.30V424.15H153.24V424.21H154.18V424.28H155.11V424.34H156.05V424.40H156.99V424.46H157.93V424.53H158.86V424.59H159.80V424.65H160.74V424.72H161.68V424.78H162.61V424.84H163.55V424.90H164.49V424.97H165.43V425.03" fill="none" stroke="#c8166f" stroke-width="1.3" stroke-linejoin="miter"/>
<text x="93.10" y="375.10" font-size="5.8" fill="#333" textLength="28.00" lengthAdjust="spacingAndGlyphs">23.2 months</text>
<text x="125.50" y="392.70" font-size="5.8" fill="#333" textLength="27.60" lengthAdjust="spacingAndGlyphs">Independent</text>
<text x="115.10" y="418.60" font-size="5.8" fill="#333" textLength="24.20" lengthAdjust="spacingAndGlyphs">Dependent</text>
<text x="58.10" y="421.20" font-size="5.8" fill="#333" textLength="27.60" lengthAdjust="spacingAndGlyphs">10.9 months</text>
<text x="179.00" y="338.80" font-size="11" fill="#000" font-weight="bold">G</text>
<text x="219.80" y="341.20" font-size="7.8" fill="#222" textLength="85.60" lengthAdjust="spacingAndGlyphs">Cox proportional- hazard for OS</text>
<rect x="193.7" y="345.3" width="137.60" height="111.32" fill="none" stroke="#555" stroke-width="0.9"/>
<line x1="193.70" y1="352.60" x2="331.30" y2="352.60" stroke="#555" stroke-width="0.9" />
<line x1="193.70" y1="360.03" x2="331.30" y2="360.03" stroke="#555" stroke-width="0.9" />
<line x1="193.70" y1="367.46" x2="331.30" y2="367.46" stroke="#555" stroke-width="0.9" />
<line x1="193.70" y1="374.89" x2="331.30" y2="374.89" stroke="#555" stroke-width="0.9" />
<line x1="193.70" y1="382.32" x2="331.30" y2="382.32" stroke="#555" stroke-width="0.9" />
<line x1="193.70" y1="389.75" x2="331.30" y2="389.75" stroke="#555" stroke-width="0.9" />
<line x1="193.70" y1="397.18" x2="331.30" y2="397.18" stroke="#555" stroke-width="0.9" />
<line x1="193.70" y1="404.61" x2="331.30" y2="404.61" stroke="#555" stroke-width="0.9" />
<line x1="193.70" y1="412.04" x2="331.30" y2="412.04" stroke="#555" stroke-width="0.9" />
<line x1="193.70" y1="419.47" x2="331.30" y2="419.47" stroke="#555" stroke-width="0.9" />
<line x1="193.70" y1="426.90" x2="331.30" y2="426.90" stroke="#555" stroke-width="0.9" />
<line x1="193.70" y1="434.33" x2="331.30" y2="434.33" stroke="#555" stroke-width="0.9" />
<line x1="193.70" y1="441.76" x2="331.30" y2="441.76" stroke="#555" stroke-width="0.9" />
<line x1="193.70" y1="449.19" x2="331.30" y2="449.19" stroke="#555" stroke-width="0.9" />
<text x="221.90" y="350.90" font-size="6.3" fill="#333" text-anchor="middle" textLength="17.80" lengthAdjust="spacingAndGlyphs">Variable</text>
<text x="278.00" y="350.90" font-size="6.3" fill="#333" text-anchor="middle" textLength="16.60" lengthAdjust="spacingAndGlyphs">Hazard</text>
<text x="319.40" y="350.60" font-size="5.6" fill="#333" text-anchor="middle" font-style="italic">P</text>
<line x1="255.70" y1="353.60" x2="255.70" y2="458.62" stroke="#d23a5a" stroke-width="0.7" />
<text x="196.40" y="358.21" font-size="4.9" fill="#555" textLength="15.00" lengthAdjust="spacingAndGlyphs">RBC-TD</text>
<text x="218.10" y="358.21" font-size="4.9" fill="#555" transform="translate(218.1 0) scale(0.88 1) translate(-218.1 0)">Independent</text>
<rect x="254.80" y="355.42" width="1.8" height="1.8" fill="#8a0f2a" transform="rotate(45 255.70 356.31)"/>
<text x="218.10" y="365.64" font-size="4.9" fill="#555" transform="translate(218.1 0) scale(0.88 1) translate(-218.1 0)">Dependent</text>
<line x1="265.94" y1="363.75" x2="272.98" y2="363.75" stroke="#d23a5a" stroke-width="0.8" />
<rect x="268.43" y="362.75" width="2.0" height="2.0" fill="#8a0f2a" transform="rotate(45 269.43 363.75)"/>
<text x="325.30" y="365.64" font-size="4.9" fill="#555" text-anchor="end" transform="translate(325.3 0) scale(0.88 1) translate(-325.3 0)">&lt; .001</text>
<text x="196.40" y="373.07" font-size="4.9" fill="#555" textLength="15.00" lengthAdjust="spacingAndGlyphs">IPSS-M</text>
<text x="218.10" y="373.07" font-size="4.9" fill="#555" transform="translate(218.1 0) scale(0.88 1) translate(-218.1 0)">Very Low</text>
<rect x="254.80" y="370.28" width="1.8" height="1.8" fill="#8a0f2a" transform="rotate(45 255.70 371.18)"/>
<text x="218.10" y="380.50" font-size="4.9" fill="#555" transform="translate(218.1 0) scale(0.88 1) translate(-218.1 0)">Low</text>
<line x1="259.03" y1="378.61" x2="271.60" y2="378.61" stroke="#d23a5a" stroke-width="0.8" />
<rect x="263.69" y="377.61" width="2.0" height="2.0" fill="#8a0f2a" transform="rotate(45 264.69 378.61)"/>
<text x="325.30" y="380.50" font-size="4.9" fill="#555" text-anchor="end" transform="translate(325.3 0) scale(0.88 1) translate(-325.3 0)">.004</text>
<text x="218.10" y="387.94" font-size="4.9" fill="#555" transform="translate(218.1 0) scale(0.88 1) translate(-218.1 0)">Moderate Low</text>
<line x1="261.67" y1="386.04" x2="275.07" y2="386.04" stroke="#d23a5a" stroke-width="0.8" />
<rect x="267.17" y="385.04" width="2.0" height="2.0" fill="#8a0f2a" transform="rotate(45 268.17 386.04)"/>
<text x="325.30" y="387.94" font-size="4.9" fill="#555" text-anchor="end" transform="translate(325.3 0) scale(0.88 1) translate(-325.3 0)">&lt; .001</text>
<text x="218.10" y="395.37" font-size="4.9" fill="#555" transform="translate(218.1 0) scale(0.88 1) translate(-218.1 0)">Moderate High</text>
<line x1="266.27" y1="393.47" x2="281.11" y2="393.47" stroke="#d23a5a" stroke-width="0.8" />
<rect x="272.30" y="392.47" width="2.0" height="2.0" fill="#8a0f2a" transform="rotate(45 273.30 393.47)"/>
<text x="325.30" y="395.37" font-size="4.9" fill="#555" text-anchor="end" transform="translate(325.3 0) scale(0.88 1) translate(-325.3 0)">&lt; .001</text>
<text x="218.10" y="402.80" font-size="4.9" fill="#555" transform="translate(218.1 0) scale(0.88 1) translate(-218.1 0)">High</text>
<line x1="267.83" y1="400.90" x2="281.45" y2="400.90" stroke="#d23a5a" stroke-width="0.8" />
<rect x="273.51" y="399.90" width="2.0" height="2.0" fill="#8a0f2a" transform="rotate(45 274.51 400.90)"/>
<text x="325.30" y="402.80" font-size="4.9" fill="#555" text-anchor="end" transform="translate(325.3 0) scale(0.88 1) translate(-325.3 0)">&lt; .001</text>
<text x="218.10" y="410.23" font-size="4.9" fill="#555" transform="translate(218.1 0) scale(0.88 1) translate(-218.1 0)">Very High</text>
<line x1="286.03" y1="408.33" x2="300.09" y2="408.33" stroke="#d23a5a" stroke-width="0.8" />
<rect x="291.40" y="407.33" width="2.0" height="2.0" fill="#8a0f2a" transform="rotate(45 292.40 408.33)"/>
<text x="325.30" y="410.23" font-size="4.9" fill="#555" text-anchor="end" transform="translate(325.3 0) scale(0.88 1) translate(-325.3 0)">&lt; .001</text>
<text x="196.40" y="417.65" font-size="4.9" fill="#555" textLength="7.50" lengthAdjust="spacingAndGlyphs">Age</text>
<text x="218.10" y="417.65" font-size="4.9" fill="#555" transform="translate(218.1 0) scale(0.88 1) translate(-218.1 0)">Under 60</text>
<rect x="254.80" y="414.86" width="1.8" height="1.8" fill="#8a0f2a" transform="rotate(45 255.70 415.75)"/>
<text x="218.10" y="425.08" font-size="4.9" fill="#555" transform="translate(218.1 0) scale(0.88 1) translate(-218.1 0)">60-70</text>
<line x1="256.44" y1="423.19" x2="267.33" y2="423.19" stroke="#d23a5a" stroke-width="0.8" />
<rect x="259.85" y="422.19" width="2.0" height="2.0" fill="#8a0f2a" transform="rotate(45 260.85 423.19)"/>
<text x="325.30" y="425.08" font-size="4.9" fill="#555" text-anchor="end" transform="translate(325.3 0) scale(0.88 1) translate(-325.3 0)">.157</text>
<text x="218.10" y="432.51" font-size="4.9" fill="#555" transform="translate(218.1 0) scale(0.88 1) translate(-218.1 0)">70-80</text>
<line x1="259.97" y1="430.62" x2="272.48" y2="430.62" stroke="#d23a5a" stroke-width="0.8" />
<rect x="264.71" y="429.62" width="2.0" height="2.0" fill="#8a0f2a" transform="rotate(45 265.71 430.62)"/>
<text x="325.30" y="432.51" font-size="4.9" fill="#555" text-anchor="end" transform="translate(325.3 0) scale(0.88 1) translate(-325.3 0)">.002</text>
<text x="218.10" y="439.94" font-size="4.9" fill="#555" transform="translate(218.1 0) scale(0.88 1) translate(-218.1 0)">Over 80</text>
<line x1="265.71" y1="438.05" x2="278.45" y2="438.05" stroke="#d23a5a" stroke-width="0.8" />
<rect x="270.24" y="437.05" width="2.0" height="2.0" fill="#8a0f2a" transform="rotate(45 271.24 438.05)"/>
<text x="325.30" y="439.94" font-size="4.9" fill="#555" text-anchor="end" transform="translate(325.3 0) scale(0.88 1) translate(-325.3 0)">&lt; .001</text>
<text x="196.40" y="447.38" font-size="4.9" fill="#555" textLength="7.30" lengthAdjust="spacingAndGlyphs">Sex</text>
<text x="218.10" y="447.38" font-size="4.9" fill="#555" transform="translate(218.1 0) scale(0.88 1) translate(-218.1 0)">Female</text>
<rect x="254.80" y="444.58" width="1.8" height="1.8" fill="#8a0f2a" transform="rotate(45 255.70 445.48)"/>
<text x="218.10" y="454.81" font-size="4.9" fill="#555" transform="translate(218.1 0) scale(0.88 1) translate(-218.1 0)">Male</text>
<line x1="257.80" y1="452.91" x2="263.51" y2="452.91" stroke="#d23a5a" stroke-width="0.8" />
<rect x="258.51" y="451.91" width="2.0" height="2.0" fill="#8a0f2a" transform="rotate(45 259.51 452.91)"/>
<text x="325.30" y="454.81" font-size="4.9" fill="#555" text-anchor="end" transform="translate(325.3 0) scale(0.88 1) translate(-325.3 0)">.004</text>
<line x1="255.70" y1="456.62" x2="255.70" y2="458.92" stroke="#444" stroke-width="0.8" />
<text x="255.70" y="465.30" font-size="4.6" fill="#555" text-anchor="middle">1</text>
<line x1="264.50" y1="456.62" x2="264.50" y2="458.92" stroke="#444" stroke-width="0.8" />
<text x="264.50" y="465.30" font-size="4.6" fill="#555" text-anchor="middle">2</text>
<line x1="273.30" y1="456.62" x2="273.30" y2="458.92" stroke="#444" stroke-width="0.8" />
<text x="273.30" y="465.30" font-size="4.6" fill="#555" text-anchor="middle">4</text>
<line x1="282.10" y1="456.62" x2="282.10" y2="458.92" stroke="#444" stroke-width="0.8" />
<text x="282.10" y="465.30" font-size="4.6" fill="#555" text-anchor="middle">8</text>
<line x1="290.90" y1="456.62" x2="290.90" y2="458.92" stroke="#444" stroke-width="0.8" />
<text x="290.90" y="465.30" font-size="4.6" fill="#555" text-anchor="middle">16</text>
<line x1="299.70" y1="456.62" x2="299.70" y2="458.92" stroke="#444" stroke-width="0.8" />
<text x="299.70" y="465.30" font-size="4.6" fill="#555" text-anchor="middle">32</text>
<text x="355.00" y="338.80" font-size="11" fill="#000" font-weight="bold">H</text>
<text x="417.00" y="339.40" font-size="7.0" fill="#222" textLength="68.70" lengthAdjust="spacingAndGlyphs">OS by transfusion burden</text>
<text x="480.20" y="351.60" font-size="7.0" fill="#222" textLength="25.90" lengthAdjust="spacingAndGlyphs"><tspan font-style="italic">P</tspan> &lt; .0001</text>
<line x1="389.40" y1="345.00" x2="389.40" y2="431.70" stroke="#333" stroke-width="1.2" />
<line x1="388.80" y1="431.10" x2="512.20" y2="431.10" stroke="#333" stroke-width="1.2" />
<line x1="386.20" y1="427.00" x2="389.40" y2="427.00" stroke="#333" stroke-width="0.9" />
<text x="383.40" y="429.30" font-size="6.4" fill="#3a3a3a" text-anchor="end">0%</text>
<line x1="386.20" y1="407.30" x2="389.40" y2="407.30" stroke="#333" stroke-width="0.9" />
<text x="383.40" y="409.60" font-size="6.4" fill="#3a3a3a" text-anchor="end">25%</text>
<line x1="386.20" y1="387.60" x2="389.40" y2="387.60" stroke="#333" stroke-width="0.9" />
<text x="383.40" y="389.90" font-size="6.4" fill="#3a3a3a" text-anchor="end">50%</text>
<line x1="386.20" y1="367.90" x2="389.40" y2="367.90" stroke="#333" stroke-width="0.9" />
<text x="383.40" y="370.20" font-size="6.4" fill="#3a3a3a" text-anchor="end">75%</text>
<line x1="386.20" y1="348.20" x2="389.40" y2="348.20" stroke="#333" stroke-width="0.9" />
<text x="383.40" y="350.50" font-size="6.4" fill="#3a3a3a" text-anchor="end">100%</text>
<line x1="394.70" y1="431.10" x2="394.70" y2="434.10" stroke="#333" stroke-width="0.9" />
<text x="394.70" y="442.80" font-size="6.4" fill="#3a3a3a" text-anchor="middle">0</text>
<line x1="417.16" y1="431.10" x2="417.16" y2="434.10" stroke="#333" stroke-width="0.9" />
<text x="417.16" y="442.80" font-size="6.4" fill="#3a3a3a" text-anchor="middle">12</text>
<line x1="439.62" y1="431.10" x2="439.62" y2="434.10" stroke="#333" stroke-width="0.9" />
<text x="439.62" y="442.80" font-size="6.4" fill="#3a3a3a" text-anchor="middle">24</text>
<line x1="462.08" y1="431.10" x2="462.08" y2="434.10" stroke="#333" stroke-width="0.9" />
<text x="462.08" y="442.80" font-size="6.4" fill="#3a3a3a" text-anchor="middle">36</text>
<line x1="484.54" y1="431.10" x2="484.54" y2="434.10" stroke="#333" stroke-width="0.9" />
<text x="484.54" y="442.80" font-size="6.4" fill="#3a3a3a" text-anchor="middle">48</text>
<line x1="507.00" y1="431.10" x2="507.00" y2="434.10" stroke="#333" stroke-width="0.9" />
<text x="507.00" y="442.80" font-size="6.4" fill="#3a3a3a" text-anchor="middle">60</text>
<text x="412.50" y="454.40" font-size="8.8" fill="#2a2a2a" textLength="77.00" lengthAdjust="spacingAndGlyphs" stroke="#2a2a2a" stroke-width="0.28">Time from diagnosis (months)</text>
<text x="361.10" y="388.40" font-size="8.0" fill="#2a2a2a" text-anchor="middle" textLength="48.00" lengthAdjust="spacingAndGlyphs" transform="rotate(-90 361.10 388.40)" stroke="#2a2a2a" stroke-width="0.22">Survival probability</text>
<path d="M394.70,348.20H395.82V348.30H396.95V348.41H398.07V348.51H399.19V348.62H400.31V348.72H401.44V348.82H402.56V348.93H403.68V349.03H404.81V349.23H405.93V349.48H407.05V349.73H408.18V349.98H409.30V350.23H410.42V350.48H411.54V350.73H412.67V350.98H413.79V351.26H414.91V351.56H416.04V351.85H417.16V352.14H418.28V352.43H419.41V352.73H420.53V353.02H421.65V353.31H422.77V353.60H423.90V353.89H425.02V354.18H426.14V354.46H427.27V354.75H428.39V355.04H429.51V355.33H430.64V355.61H431.76V355.90H432.88V356.19H434.00V356.48H435.13V356.76H436.25V357.05H437.37V357.34H438.50V357.63H439.62V357.92H440.74V358.29H441.87V358.67H442.99V359.06H444.11V359.45H445.24V359.83H446.36V360.22H447.48V360.61H448.60V360.99H449.73V361.32H450.85V361.62H451.97V361.92H453.10V362.22H454.22V362.53H455.34V362.80H456.47V363.01H457.59V363.22H458.71V363.43H459.83V363.64H460.96V363.85H462.08V364.06H463.20V364.27H464.33V364.47H465.45V364.67H466.57V364.87H467.70V365.07H468.82V365.27H469.94V365.47H471.06V365.67H472.19V365.87H473.31V366.07H474.43V366.27H475.56V366.50H476.68V366.78H477.80V367.06H478.93V367.34H480.05V367.62H481.17V367.90H482.29V368.18H483.42V368.46H484.54V368.74H485.66V369.02H486.79V369.29H487.91V369.63H489.03V370.07H490.16V370.52H491.28V370.96H492.40V371.41H493.52V371.85H494.65V372.29H495.77V372.74H496.89V373.18H498.02V373.63H499.14V374.07H500.26V374.49H501.39V374.86H502.51V375.23H503.63V375.60H504.75V375.97H505.88V376.35H507.00V376.72H508.12V377.09H509.25V377.46H510.37V377.83H511.49V378.20H512.05V378.39V386.25H512.05V386.05H511.49V385.65H510.37V385.25H509.25V384.85H508.12V384.45H507.00V384.05H505.88V383.65H504.75V383.25H503.63V382.85H502.51V382.45H501.39V382.05H500.26V381.61H499.14V381.13H498.02V380.66H496.89V380.19H495.77V379.72H494.65V379.24H493.52V378.77H492.40V378.30H491.28V377.82H490.16V377.35H489.03V376.88H487.91V376.52H486.79V376.21H485.66V375.90H484.54V375.59H483.42V375.28H482.29V374.98H481.17V374.67H480.05V374.36H478.93V374.05H477.80V373.74H476.68V373.44H475.56V373.18H474.43V372.95H473.31V372.72H472.19V372.49H471.06V372.26H469.94V372.03H468.82V371.80H467.70V371.57H466.57V371.35H465.45V371.12H464.33V370.89H463.20V370.65H462.08V370.41H460.96V370.17H459.83V369.93H458.71V369.69H457.59V369.45H456.47V369.21H455.34V368.90H454.22V368.55H453.10V368.20H451.97V367.85H450.85V367.50H449.73V367.11H448.60V366.63H447.48V366.15H446.36V365.66H445.24V365.18H444.11V364.70H442.99V364.22H441.87V363.74H440.74V363.27H439.62V362.89H438.50V362.51H437.37V362.13H436.25V361.75H435.13V361.36H434.00V360.98H432.88V360.60H431.76V360.22H430.64V359.83H429.51V359.45H428.39V359.07H427.27V358.69H426.14V358.31H425.02V357.92H423.90V357.54H422.77V357.16H421.65V356.77H420.53V356.37H419.41V355.98H418.28V355.59H417.16V355.20H416.04V354.81H414.91V354.42H413.79V354.01H412.67V353.57H411.54V353.13H410.42V352.69H409.30V352.25H408.18V351.81H407.05V351.37H405.93V350.94H404.81V350.55H403.68V350.25H402.56V349.96H401.44V349.67H400.31V349.37H399.19V349.08H398.07V348.79H396.95V348.49H395.82V348.20H394.70Z" fill="#d0ecfa" fill-opacity="1.0" stroke="none"/>
<path d="M394.70,348.20H395.82V348.55H396.95V348.89H398.07V349.37H399.19V349.97H400.31V350.58H401.44V351.18H402.56V351.94H403.68V353.01H404.81V354.08H405.93V355.14H407.05V356.21H408.18V357.29H409.30V358.39H410.42V359.49H411.54V360.59H412.67V361.69H413.79V362.23H414.91V362.49H416.04V362.74H417.16V363.00H418.28V363.26H419.41V363.58H420.53V364.21H421.65V364.83H422.77V365.45H423.90V366.06H425.02V366.58H426.14V367.11H427.27V367.63H428.39V368.16H429.51V368.68H430.64V369.21H431.76V369.71H432.88V370.21H434.00V370.71H435.13V371.20H436.25V371.70H437.37V372.20H438.50V372.95H439.62V374.21H440.74V375.47H441.87V376.72H442.99V377.98H444.11V379.15H445.24V380.22H446.36V381.30H447.48V382.37H448.60V383.17H449.73V383.69H450.85V384.21H451.97V384.73H453.10V385.24H454.22V385.76H455.34V386.30H456.47V386.86H457.59V387.43H458.71V388.00H459.83V388.57H460.96V389.13H462.08V389.70H463.20V390.17H464.33V390.44H465.45V390.72H466.57V390.99H467.70V391.27H468.82V391.54H469.94V391.81H471.06V392.09H472.19V392.36H473.31V392.63H474.43V392.91H475.56V393.26H476.68V393.79H477.80V394.32H478.93V394.84H480.05V395.37H481.17V395.89H482.29V396.42H483.42V397.42H484.54V398.53H485.66V399.63H486.79V400.73H487.91V401.47H489.03V401.47H490.16V401.47H491.28V401.47H492.40V401.47H493.52V401.47H494.65V401.47H495.77V401.47H496.89V401.47H498.02V401.47H499.14V401.47H500.26V401.47H501.39V401.47H502.51V401.47H503.63V401.47H504.75V401.47H505.88V401.47H507.00V401.47H508.12V401.47H509.25V401.47H510.37V401.47H511.49V401.47H512.62V401.47V414.08H512.62V414.08H511.49V414.08H510.37V414.08H509.25V414.08H508.12V414.08H507.00V414.08H505.88V414.08H504.75V414.08H503.63V414.08H502.51V414.08H501.39V414.08H500.26V414.08H499.14V414.08H498.02V414.08H496.89V414.08H495.77V414.08H494.65V414.08H493.52V414.08H492.40V414.08H491.28V414.08H490.16V414.08H489.03V414.08H487.91V413.34H486.79V412.24H485.66V411.13H484.54V410.03H483.42V409.02H482.29V408.44H481.17V407.87H480.05V407.30H478.93V406.72H477.80V406.15H476.68V405.57H475.56V405.14H474.43V404.77H473.31V404.40H472.19V404.03H471.06V403.66H469.94V403.30H468.82V402.93H467.70V402.56H466.57V402.19H465.45V401.82H464.33V401.45H463.20V400.89H462.08V400.23H460.96V399.57H459.83V398.91H458.71V398.24H457.59V397.58H456.47V396.92H455.34V396.30H454.22V395.69H453.10V395.09H451.97V394.49H450.85V393.88H449.73V393.28H448.60V392.40H447.48V391.26H446.36V390.11H445.24V388.97H444.11V387.73H442.99V386.40H441.87V385.07H440.74V383.74H439.62V382.42H438.50V381.59H437.37V381.03H436.25V380.46H435.13V379.89H434.00V379.32H432.88V378.75H431.76V378.17H430.64V377.58H429.51V376.98H428.39V376.39H427.27V375.79H426.14V375.19H425.02V374.60H423.90V373.92H422.77V373.23H421.65V372.53H420.53V371.84H419.41V371.44H418.28V371.09H417.16V370.74H416.04V370.39H414.91V370.04H413.79V369.31H412.67V367.84H411.54V366.36H410.42V364.88H409.30V363.41H408.18V361.91H407.05V360.40H405.93V358.89H404.81V357.38H403.68V355.87H402.56V354.59H401.44V353.42H400.31V352.24H399.19V351.07H398.07V350.03H396.95V349.11H395.82V348.20H394.70Z" fill="#e3e1f2" fill-opacity="1.0" stroke="none"/>
<path d="M394.70,348.20H395.64V348.53H396.57V348.86H397.51V349.19H398.44V350.22H399.38V351.26H400.31V352.30H401.25V354.07H402.19V355.84H403.12V357.62H404.06V359.39H404.99V361.16H405.93V362.86H406.87V364.55H407.80V366.24H408.74V367.94H409.67V369.60H410.61V371.16H411.55V372.72H412.48V374.28H413.42V375.84H414.35V377.62H415.29V379.73H416.22V381.84H417.16V383.95H418.10V386.06H419.03V388.18H419.97V390.29H420.90V392.41H421.84V393.03H422.77V393.66H423.71V394.28H424.65V394.91H425.58V395.53H426.52V396.14H427.45V396.70H428.39V397.26H429.33V397.82H430.26V398.38H431.20V398.89H432.13V399.33H433.07V399.78H434.00V400.22H434.94V400.67H435.88V401.11H436.81V401.56H437.75V402.00H438.68V402.54H439.62V403.16H440.56V403.77H441.49V404.38H442.43V404.99H443.36V405.60H444.30V406.22H445.24V406.85H446.17V407.47H447.11V408.10H448.04V408.72H448.98V409.35H449.91V409.91H450.85V410.47H451.79V411.04H452.72V411.60H453.66V412.16H454.59V412.72H455.53V413.13H456.46V413.45H457.40V413.76H458.34V414.07H459.27V414.39H460.21V414.70H461.14V415.01H462.08V415.32H463.02V415.46H463.95V415.59H464.89V415.73H465.82V415.87H466.76V416.00H467.69V416.14H468.63V416.27H469.57V416.41H470.50V416.55H471.44V416.68H472.37V416.82H473.31V416.95H474.25V417.09H475.18V417.22H476.12V417.42H477.05V417.61H477.99V417.80H478.93V417.99H479.86V418.18H480.80V418.37H481.73V418.56H482.67V418.75H483.60V418.94H484.54V419.13H485.48V419.33H486.41V419.52H487.35V419.71H488.28V419.84H489.22V419.97H490.15V420.09H491.09V420.21H492.03V420.33H492.96V420.46H493.90V420.58H494.83V420.70H495.77V420.83H496.71V420.95H497.64V421.07H498.58V421.19H499.51V421.32H500.45V421.37H501.38V421.42H502.32V421.47H503.26V421.52H504.19V421.57H505.13V421.62H506.06V421.68H507.00V421.73H507.94V421.78H508.87V421.83H509.81V421.88H510.74V421.93H511.68V421.98H512.62V422.04V427.00H512.62V426.98H511.68V426.96H510.74V426.94H509.81V426.92H508.87V426.90H507.94V426.89H507.00V426.87H506.06V426.85H505.13V426.83H504.19V426.81H503.26V426.79H502.32V426.77H501.38V426.75H500.45V426.73H499.51V426.64H498.58V426.55H497.64V426.46H496.71V426.37H495.77V426.28H494.83V426.19H493.90V426.10H492.96V426.01H492.03V425.92H491.09V425.83H490.15V425.74H489.22V425.65H488.28V425.54H487.35V425.38H486.41V425.22H485.48V425.07H484.54V424.91H483.60V424.75H482.67V424.59H481.73V424.43H480.80V424.27H479.86V424.11H478.93V423.95H477.99V423.80H477.05V423.64H476.12V423.48H475.18V423.37H474.25V423.27H473.31V423.17H472.37V423.06H471.44V422.96H470.50V422.86H469.57V422.75H468.63V422.65H467.69V422.55H466.76V422.44H465.82V422.34H464.89V422.24H463.95V422.13H463.02V422.03H462.08V421.75H461.14V421.47H460.21V421.19H459.27V420.91H458.34V420.63H457.40V420.35H456.46V420.07H455.53V419.68H454.59V419.14H453.66V418.60H452.72V418.06H451.79V417.52H450.85V416.98H449.91V416.44H448.98V415.82H448.04V415.19H447.11V414.57H446.17V413.94H445.24V413.32H444.30V412.69H443.36V412.08H442.43V411.47H441.49V410.86H440.56V410.25H439.62V409.64H438.68V409.09H437.75V408.65H436.81V408.20H435.88V407.76H434.94V407.31H434.00V406.87H433.07V406.43H432.13V405.98H431.20V405.47H430.26V404.91H429.33V404.35H428.39V403.79H427.45V403.24H426.52V402.62H425.58V402.00H424.65V401.37H423.71V400.75H422.77V400.12H421.84V399.50H420.90V397.38H419.97V395.27H419.03V393.15H418.10V391.00H417.16V388.67H416.22V386.34H415.29V384.02H414.35V382.02H413.42V380.23H412.48V378.44H411.55V376.65H410.61V374.86H409.67V372.94H408.74V370.99H407.80V369.04H406.87V367.09H405.93V365.14H404.99V363.00H404.06V360.87H403.12V358.73H402.19V356.60H401.25V354.46H400.31V353.07H399.38V351.67H398.44V350.27H397.51V349.58H396.57V348.89H395.64V348.20H394.70Z" fill="#fbd8ea" fill-opacity="1.0" stroke="none"/>
<line x1="394.20" y1="387.60" x2="512.20" y2="387.60" stroke="#bdbdbd" stroke-width="1.1" />
<line x1="417.91" y1="387.60" x2="417.91" y2="427.00" stroke="#999999" stroke-width="0.8" />
<line x1="447.29" y1="387.60" x2="447.29" y2="427.00" stroke="#999999" stroke-width="0.8" />
<path d="M394.70,348.20H395.82V348.40H396.95V348.60H398.07V348.80H399.19V348.99H400.31V349.19H401.44V349.39H402.56V349.59H403.68V349.79H404.81V350.08H405.93V350.43H407.05V350.77H408.18V351.12H409.30V351.46H410.42V351.81H411.54V352.15H412.67V352.50H413.79V352.84H414.91V353.18H416.04V353.52H417.16V353.87H418.28V354.21H419.41V354.55H420.53V354.89H421.65V355.23H422.77V355.57H423.90V355.91H425.02V356.24H426.14V356.58H427.27V356.91H428.39V357.25H429.51V357.58H430.64V357.92H431.76V358.25H432.88V358.59H434.00V358.92H435.13V359.25H436.25V359.59H437.37V359.92H438.50V360.26H439.62V360.59H440.74V361.01H441.87V361.45H442.99V361.88H444.11V362.31H445.24V362.75H446.36V363.18H447.48V363.62H448.60V364.05H449.73V364.41H450.85V364.74H451.97V365.06H453.10V365.39H454.22V365.71H455.34V366.01H456.47V366.23H457.59V366.46H458.71V366.68H459.83V366.91H460.96V367.13H462.08V367.36H463.20V367.58H464.33V367.79H465.45V368.01H466.57V368.22H467.70V368.44H468.82V368.65H469.94V368.87H471.06V369.08H472.19V369.30H473.31V369.51H474.43V369.73H475.56V369.97H476.68V370.26H477.80V370.56H478.93V370.85H480.05V371.14H481.17V371.44H482.29V371.73H483.42V372.02H484.54V372.32H485.66V372.61H486.79V372.90H487.91V373.25H489.03V373.71H490.16V374.17H491.28V374.63H492.40V375.09H493.52V375.55H494.65V376.00H495.77V376.46H496.89V376.92H498.02V377.38H499.14V377.84H500.26V378.27H501.39V378.66H502.51V379.04H503.63V379.43H504.75V379.81H505.88V380.20H507.00V380.59H508.12V380.97H509.25V381.36H510.37V381.74H511.49V382.13H512.05V382.32" fill="none" stroke="#2f94ca" stroke-width="1.15" stroke-linejoin="miter"/>
<path d="M394.70,348.20H395.82V348.83H396.95V349.46H398.07V350.22H399.19V351.11H400.31V352.00H401.44V352.89H402.56V353.91H403.68V355.20H404.81V356.48H405.93V357.77H407.05V359.06H408.18V360.35H409.30V361.64H410.42V362.92H411.54V364.21H412.67V365.50H413.79V366.14H414.91V366.46H416.04V366.77H417.16V367.09H418.28V367.40H419.41V367.78H420.53V368.45H421.65V369.11H422.77V369.78H423.90V370.44H425.02V371.01H426.14V371.58H427.27V372.16H428.39V372.73H429.51V373.30H430.64V373.87H431.76V374.42H432.88V374.97H434.00V375.51H435.13V376.06H436.25V376.60H437.37V377.15H438.50V377.95H439.62V379.25H440.74V380.56H441.87V381.86H442.99V383.17H444.11V384.38H445.24V385.50H446.36V386.62H447.48V387.75H448.60V388.60H449.73V389.17H450.85V389.75H451.97V390.32H453.10V390.90H454.22V391.47H455.34V392.07H456.47V392.70H457.59V393.33H458.71V393.96H459.83V394.59H460.96V395.22H462.08V395.85H463.20V396.38H464.33V396.72H465.45V397.05H466.57V397.39H467.70V397.73H468.82V398.06H469.94V398.40H471.06V398.74H472.19V399.07H473.31V399.41H474.43V399.75H475.56V400.16H476.68V400.72H477.80V401.27H478.93V401.83H480.05V402.39H481.17V402.95H482.29V403.50H483.42V404.52H484.54V405.62H485.66V406.72H486.79V407.83H487.91V408.56H489.03V408.56H490.16V408.56H491.28V408.56H492.40V408.56H493.52V408.56H494.65V408.56H495.77V408.56H496.89V408.56H498.02V408.56H499.14V408.56H500.26V408.56H501.39V408.56H502.51V408.56H503.63V408.56H504.75V408.56H505.88V408.56H507.00V408.56H508.12V408.56H509.25V408.56H510.37V408.56H511.49V408.56H512.62V408.56" fill="none" stroke="#8c88bd" stroke-width="1.3" stroke-linejoin="miter"/>
<path d="M394.70,348.20H395.64V348.73H396.57V349.25H397.51V349.78H398.44V351.01H399.38V352.25H400.31V353.48H401.25V355.45H402.19V357.42H403.12V359.39H404.06V361.36H404.99V363.33H405.93V365.17H406.87V367.01H407.80V368.85H408.74V370.68H409.67V372.49H410.61V374.18H411.55V375.88H412.48V377.57H413.42V379.26H414.35V381.16H415.29V383.40H416.22V385.63H417.16V387.86H418.10V390.00H419.03V392.12H419.97V394.23H420.90V396.35H421.84V396.97H422.77V397.60H423.71V398.22H424.65V398.85H425.58V399.47H426.52V400.08H427.45V400.64H428.39V401.20H429.33V401.76H430.26V402.32H431.20V402.83H432.13V403.27H433.07V403.72H434.00V404.16H434.94V404.61H435.88V405.05H436.81V405.50H437.75V405.94H438.68V406.48H439.62V407.10H440.56V407.71H441.49V408.32H442.43V408.93H443.36V409.54H444.30V410.16H445.24V410.79H446.17V411.41H447.11V412.04H448.04V412.66H448.98V413.29H449.91V413.84H450.85V414.40H451.79V414.95H452.72V415.51H453.66V416.06H454.59V416.61H455.53V417.02H456.46V417.32H457.40V417.62H458.34V417.92H459.27V418.22H460.21V418.52H461.14V418.82H462.08V419.12H463.02V419.24H463.95V419.37H464.89V419.49H465.82V419.62H466.76V419.74H467.69V419.86H468.63V419.99H469.57V420.11H470.50V420.23H471.44V420.36H472.37V420.48H473.31V420.61H474.25V420.73H475.18V420.85H476.12V421.03H477.05V421.21H477.99V421.39H478.93V421.57H479.86V421.75H480.80V421.93H481.73V422.11H482.67V422.29H483.60V422.47H484.54V422.64H485.48V422.82H486.41V423.00H487.35V423.18H488.28V423.31H489.22V423.42H490.15V423.53H491.09V423.64H492.03V423.75H492.96V423.86H493.90V423.97H494.83V424.08H495.77V424.19H496.71V424.30H497.64V424.41H498.58V424.53H499.51V424.64H500.45V424.68H501.38V424.71H502.32V424.75H503.26V424.79H504.19V424.83H505.13V424.87H506.06V424.91H507.00V424.95H507.94V424.99H508.87V425.03H509.81V425.07H510.74V425.11H511.68V425.15H512.62V425.19" fill="none" stroke="#c8166f" stroke-width="1.3" stroke-linejoin="miter"/>
<text x="462.00" y="362.60" font-size="5.8" fill="#333" textLength="10.00" lengthAdjust="spacingAndGlyphs">MTB</text>
<text x="485.00" y="370.00" font-size="5.8" fill="#333" textLength="27.70" lengthAdjust="spacingAndGlyphs">68.0 months</text>
<text x="452.50" y="385.60" font-size="5.8" fill="#333" textLength="9.50" lengthAdjust="spacingAndGlyphs">LTB</text>
<text x="482.00" y="397.50" font-size="5.8" fill="#333" textLength="27.90" lengthAdjust="spacingAndGlyphs">28.1 months</text>
<text x="450.00" y="413.00" font-size="5.8" fill="#333" textLength="10.00" lengthAdjust="spacingAndGlyphs">HTB</text>
<text x="418.40" y="421.30" font-size="5.8" fill="#333" textLength="28.20" lengthAdjust="spacingAndGlyphs">12.4 months</text>
<rect x="0.5" y="0.5" width="519" height="472" fill="none" stroke="#555" stroke-width="1"/>
</svg></body></html>
